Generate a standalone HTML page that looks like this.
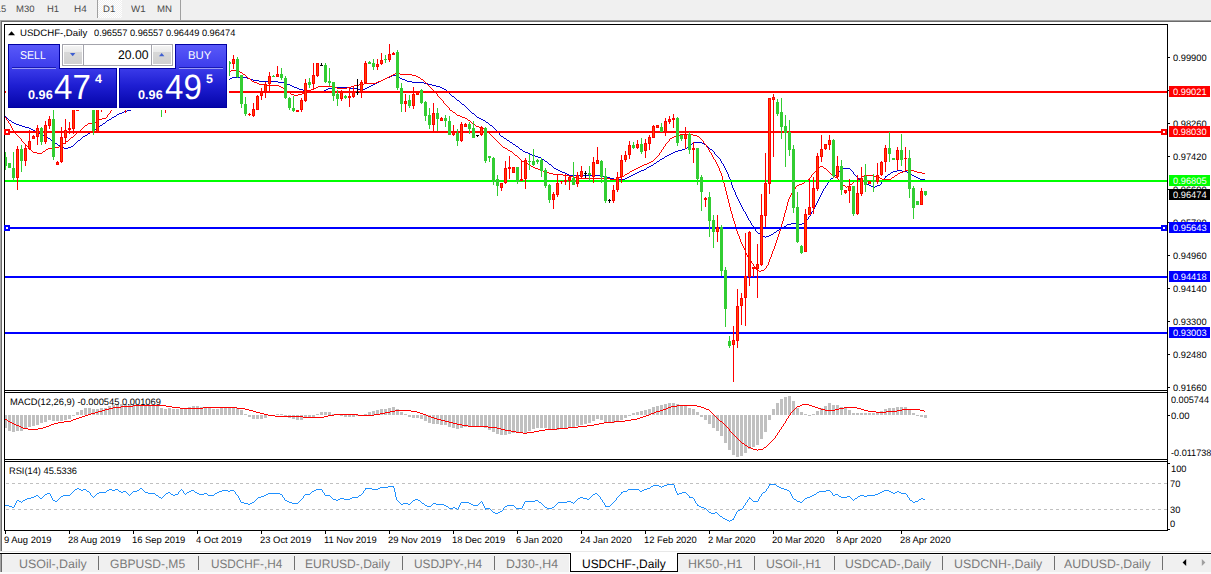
<!DOCTYPE html>
<html><head><meta charset="utf-8"><title>USDCHF-,Daily</title>
<style>
html,body{margin:0;padding:0;background:#fff}
#root{position:relative;width:1211px;height:574px;overflow:hidden;background:#fff;font-family:"Liberation Sans", sans-serif}
.t{position:absolute;white-space:pre;text-rendering:geometricPrecision}
.b{position:absolute;}
</style></head><body><div id="root">
<div class="b" style="left:0px;top:0px;width:1211px;height:20px;background:#f0f0f0;"></div>
<div class="b" style="left:0px;top:20px;width:1211px;height:1px;background:#a0a0a0;"></div>
<div class="b" style="left:0px;top:21px;width:1211px;height:1px;background:#6a6a6a;"></div>
<div class="b" style="left:0px;top:20px;width:1px;height:531px;background:#a8a8a8;"></div>
<div class="b" style="left:1px;top:21px;width:1px;height:530px;background:#6a6a6a;"></div>
<div class="b" style="left:98px;top:0px;width:24px;height:18px;background:#f7f7f7;background:repeating-conic-gradient(#ffffff 0% 25%,#f0f0f0 0% 50%) 0 0/2px 2px;"></div>
<div class="b" style="left:97px;top:0px;width:1px;height:18px;background:#a0a0a0;"></div>
<div class="b" style="left:180px;top:0px;width:1px;height:20px;background:#a0a0a0;"></div>
<div class="t" style="left:-4.2px;top:4px;font-size:9.4px;line-height:9.4px;color:#4a4a4a;">15</div>
<div class="t" style="left:16.2px;top:4px;font-size:9.4px;line-height:9.4px;color:#4a4a4a;transform:scaleX(1.0137);transform-origin:0 0;">M30</div>
<div class="t" style="left:47.3px;top:4px;font-size:9.4px;line-height:9.4px;color:#4a4a4a;transform:scaleX(1.0096);transform-origin:0 0;">H1</div>
<div class="t" style="left:74.3px;top:4px;font-size:9.4px;line-height:9.4px;color:#4a4a4a;transform:scaleX(1.0597);transform-origin:0 0;">H4</div>
<div class="t" style="left:102.9px;top:4px;font-size:9.4px;line-height:9.4px;color:#4a4a4a;transform:scaleX(1.0180);transform-origin:0 0;">D1</div>
<div class="t" style="left:131.0px;top:4px;font-size:9.4px;line-height:9.4px;color:#4a4a4a;transform:scaleX(1.0382);transform-origin:0 0;">W1</div>
<div class="t" style="left:157.4px;top:4px;font-size:9.4px;line-height:9.4px;color:#4a4a4a;transform:scaleX(1.0278);transform-origin:0 0;">MN</div>
<svg class="b" style="left:0;top:0" width="1211" height="574" viewBox="0 0 1211 574" shape-rendering="crispEdges"><path d="M142 105.5h4M139 106.5h3M137 107.5h2M134 108.5h3M131 109.5h3M127 110.5h4M124 111.5h3M122 112.5h2M119 113.5h3M117 114.5h2M116 115.5h1M5 116.5h1M114 116.5h2M6 117.5h1M112 117.5h2M7 118.5h1M111 118.5h1M8 119.5h1M109 119.5h2M9 120.5h2M107 120.5h2M11 121.5h1M106 121.5h1M12 122.5h2M105 122.5h1M14 123.5h2M103 123.5h2M16 124.5h3M102 124.5h1M19 125.5h3M100 125.5h2M22 126.5h3M99 126.5h1M25 127.5h4M98 127.5h1M29 128.5h2M96 128.5h2M31 129.5h2M95 129.5h1M33 130.5h2M93 130.5h2M35 131.5h2M92 131.5h1M37 132.5h2M90 132.5h2M39 133.5h2M88 133.5h2M41 134.5h1M87 134.5h1M42 135.5h2M85 135.5h2M44 136.5h2M83 136.5h2M46 137.5h2M82 137.5h1M48 138.5h2M81 138.5h1M50 139.5h1M80 139.5h1M51 140.5h2M78 140.5h2M53 141.5h1M77 141.5h1M54 142.5h1M76 142.5h1M55 143.5h2M75 143.5h1M57 144.5h1M74 144.5h1M58 145.5h2M73 145.5h1M60 146.5h1M71 146.5h2M61 147.5h3M68 147.5h3M64 148.5h4" fill="none" stroke="#0000d0" stroke-width="1"/><path d="M392 75.5h5M390 76.5h2M397 76.5h2M232 77.5h15M387 77.5h3M399 77.5h1M230 78.5h2M247 78.5h3M385 78.5h2M400 78.5h2M226 79.5h4M250 79.5h3M383 79.5h2M402 79.5h3M222 80.5h4M253 80.5h6M381 80.5h2M405 80.5h2M219 81.5h3M259 81.5h19M379 81.5h2M407 81.5h5M215 82.5h4M278 82.5h7M377 82.5h2M412 82.5h12M285 83.5h2M375 83.5h2M424 83.5h4M287 84.5h3M373 84.5h2M428 84.5h4M290 85.5h2M371 85.5h2M432 85.5h4M292 86.5h2M369 86.5h2M436 86.5h4M294 87.5h3M332 87.5h17M367 87.5h2M440 87.5h2M297 88.5h2M328 88.5h4M349 88.5h8M365 88.5h2M442 88.5h2M299 89.5h4M326 89.5h2M357 89.5h8M444 89.5h2M303 90.5h3M324 90.5h2M446 90.5h1M306 91.5h9M321 91.5h3M447 91.5h1M315 92.5h6M448 92.5h1M449 93.5h1M450 94.5h1M451 95.5h1M452 96.5h2M454 97.5h1M455 98.5h1M456 99.5h1M457 100.5h2M459 101.5h1M460 102.5h1M461 103.5h1M462 104.5h2M464 105.5h1M465 106.5h1M466 107.5h1M467 108.5h1M468 109.5h1M469 110.5h1M470 111.5h1M471 112.5h1M472 113.5h2M474 114.5h1M475 115.5h1M476 116.5h1M477 117.5h2M479 118.5h2M481 119.5h2M483 120.5h2M485 121.5h1M486 122.5h2M488 123.5h1M489 124.5h1M490 125.5h2M492 126.5h1M493 127.5h1M494 128.5h1M495 129.5h1M496 130.5h1M497 131.5h1M498 132.5h1M499 133.5h1M499 134.5h1M500 135.5h1M501 136.5h2M503 137.5h1M504 138.5h2M506 139.5h1M507 140.5h2M509 141.5h1M510 142.5h2M694 142.5h8M512 143.5h1M692 143.5h2M702 143.5h2M513 144.5h2M691 144.5h1M704 144.5h2M515 145.5h1M690 145.5h1M706 145.5h1M516 146.5h2M688 146.5h2M707 146.5h1M518 147.5h1M687 147.5h1M708 147.5h1M519 148.5h1M685 148.5h2M709 148.5h1M520 149.5h2M682 149.5h3M710 149.5h2M522 150.5h1M678 150.5h4M712 150.5h1M523 151.5h2M675 151.5h3M713 151.5h1M525 152.5h3M673 152.5h2M714 152.5h1M528 153.5h2M671 153.5h2M714 153.5h1M530 154.5h2M669 154.5h2M715 154.5h1M532 155.5h3M667 155.5h2M716 155.5h1M535 156.5h3M665 156.5h2M717 156.5h1M538 157.5h3M664 157.5h1M718 157.5h1M541 158.5h1M662 158.5h2M719 158.5h1M542 159.5h2M660 159.5h2M720 159.5h1M544 160.5h1M659 160.5h1M720 160.5h1M545 161.5h2M657 161.5h2M721 161.5h1M547 162.5h1M656 162.5h1M721 162.5h1M548 163.5h1M654 163.5h2M722 163.5h1M549 164.5h2M653 164.5h1M723 164.5h1M551 165.5h1M651 165.5h2M723 165.5h1M552 166.5h1M649 166.5h2M724 166.5h1M553 167.5h1M647 167.5h2M724 167.5h1M554 168.5h2M646 168.5h1M725 168.5h1M842 168.5h8M556 169.5h2M644 169.5h2M725 169.5h1M841 169.5h1M850 169.5h1M558 170.5h2M641 170.5h3M726 170.5h1M840 170.5h1M851 170.5h1M897 170.5h5M560 171.5h2M639 171.5h2M726 171.5h1M839 171.5h1M852 171.5h1M893 171.5h4M902 171.5h5M562 172.5h3M637 172.5h2M727 172.5h1M838 172.5h1M853 172.5h1M891 172.5h2M907 172.5h1M565 173.5h2M635 173.5h2M727 173.5h1M837 173.5h1M853 173.5h1M890 173.5h1M908 173.5h2M567 174.5h2M633 174.5h2M728 174.5h1M836 174.5h1M854 174.5h1M888 174.5h2M910 174.5h2M569 175.5h33M631 175.5h2M728 175.5h1M835 175.5h1M855 175.5h1M887 175.5h1M912 175.5h2M602 176.5h4M629 176.5h2M728 176.5h1M834 176.5h1M856 176.5h1M885 176.5h2M914 176.5h2M606 177.5h4M627 177.5h2M729 177.5h1M833 177.5h1M857 177.5h1M885 177.5h1M916 177.5h2M610 178.5h4M625 178.5h2M729 178.5h1M831 178.5h2M858 178.5h1M884 178.5h1M918 178.5h2M614 179.5h11M730 179.5h1M830 179.5h1M859 179.5h1M883 179.5h1M920 179.5h5M730 180.5h1M829 180.5h1M860 180.5h2M883 180.5h1M730 181.5h1M828 181.5h1M862 181.5h2M882 181.5h1M731 182.5h1M828 182.5h1M864 182.5h1M881 182.5h1M731 183.5h1M827 183.5h1M865 183.5h2M881 183.5h1M731 184.5h1M827 184.5h1M867 184.5h2M880 184.5h1M732 185.5h1M826 185.5h1M869 185.5h2M877 185.5h3M732 186.5h1M825 186.5h1M871 186.5h2M875 186.5h2M732 187.5h1M825 187.5h1M873 187.5h2M733 188.5h1M824 188.5h1M733 189.5h1M823 189.5h1M734 190.5h1M823 190.5h1M734 191.5h1M822 191.5h1M735 192.5h1M822 192.5h1M735 193.5h1M821 193.5h1M735 194.5h1M821 194.5h1M736 195.5h1M820 195.5h1M736 196.5h1M820 196.5h1M737 197.5h1M819 197.5h1M737 198.5h1M819 198.5h1M738 199.5h1M818 199.5h1M738 200.5h1M818 200.5h1M739 201.5h1M817 201.5h1M739 202.5h1M817 202.5h1M740 203.5h1M816 203.5h1M740 204.5h1M816 204.5h1M741 205.5h1M815 205.5h1M741 206.5h1M815 206.5h1M742 207.5h1M814 207.5h1M742 208.5h1M814 208.5h1M743 209.5h1M813 209.5h1M743 210.5h1M813 210.5h1M744 211.5h1M812 211.5h1M745 212.5h1M811 212.5h1M745 213.5h1M811 213.5h1M746 214.5h1M810 214.5h1M746 215.5h1M810 215.5h1M747 216.5h1M809 216.5h1M747 217.5h1M808 217.5h1M748 218.5h1M808 218.5h1M748 219.5h1M807 219.5h1M749 220.5h1M806 220.5h1M750 221.5h1M805 221.5h1M750 222.5h1M804 222.5h1M751 223.5h1M791 223.5h7M802 223.5h2M751 224.5h1M787 224.5h4M798 224.5h4M752 225.5h1M786 225.5h1M753 226.5h1M784 226.5h2M753 227.5h1M782 227.5h2M754 228.5h1M781 228.5h1M755 229.5h1M779 229.5h2M755 230.5h1M777 230.5h2M756 231.5h1M776 231.5h1M757 232.5h1M774 232.5h2M758 233.5h2M773 233.5h1M760 234.5h1M771 234.5h2M761 235.5h2M769 235.5h2M763 236.5h2M766 236.5h3M765 237.5h1" fill="none" stroke="#0000d0" stroke-width="1"/><path d="M124 95.5h2M123 96.5h1M122 97.5h1M121 98.5h1M121 99.5h1M120 100.5h1M119 101.5h1M118 102.5h1M117 103.5h1M116 104.5h1M115 105.5h1M114 106.5h1M114 107.5h1M113 108.5h1M112 109.5h1M111 110.5h1M110 111.5h1M110 112.5h1M109 113.5h1M108 114.5h1M107 115.5h1M107 116.5h1M5 117.5h1M106 117.5h1M6 118.5h1M102 118.5h4M6 119.5h1M99 119.5h3M7 120.5h1M98 120.5h1M8 121.5h1M96 121.5h2M8 122.5h1M92 122.5h4M9 123.5h1M88 123.5h4M10 124.5h1M87 124.5h1M10 125.5h1M85 125.5h2M11 126.5h1M84 126.5h1M11 127.5h1M83 127.5h1M12 128.5h1M82 128.5h1M12 129.5h1M81 129.5h1M13 130.5h1M80 130.5h1M14 131.5h1M78 131.5h2M15 132.5h1M77 132.5h1M15 133.5h1M76 133.5h1M16 134.5h1M75 134.5h1M17 135.5h1M74 135.5h1M18 136.5h1M73 136.5h1M19 137.5h1M71 137.5h2M20 138.5h1M70 138.5h1M21 139.5h1M69 139.5h1M21 140.5h1M68 140.5h1M22 141.5h1M66 141.5h2M23 142.5h1M65 142.5h1M24 143.5h1M63 143.5h2M25 144.5h1M62 144.5h1M26 145.5h1M60 145.5h2M27 146.5h1M59 146.5h1M28 147.5h1M55 147.5h4M29 148.5h1M48 148.5h7M30 149.5h1M46 149.5h2M31 150.5h1M45 150.5h1M32 151.5h1M43 151.5h2M33 152.5h4M42 152.5h1M37 153.5h5" fill="none" stroke="#ff0000" stroke-width="1"/><path d="M231 70.5h6M228 71.5h3M237 71.5h3M225 72.5h3M240 72.5h2M221 73.5h4M242 73.5h1M395 73.5h5M218 74.5h3M243 74.5h2M393 74.5h2M400 74.5h12M215 75.5h3M245 75.5h1M391 75.5h2M412 75.5h4M246 76.5h1M389 76.5h2M416 76.5h2M247 77.5h1M387 77.5h2M418 77.5h2M248 78.5h2M385 78.5h2M420 78.5h1M250 79.5h1M383 79.5h2M421 79.5h2M251 80.5h1M381 80.5h2M423 80.5h1M252 81.5h2M378 81.5h3M424 81.5h1M254 82.5h3M376 82.5h2M425 82.5h1M257 83.5h2M364 83.5h12M426 83.5h1M259 84.5h6M359 84.5h5M427 84.5h1M265 85.5h14M354 85.5h5M428 85.5h1M279 86.5h2M318 86.5h15M351 86.5h3M429 86.5h1M281 87.5h2M316 87.5h2M333 87.5h4M347 87.5h4M430 87.5h1M283 88.5h2M314 88.5h2M337 88.5h10M431 88.5h1M285 89.5h1M311 89.5h3M432 89.5h1M286 90.5h1M307 90.5h4M433 90.5h1M287 91.5h2M306 91.5h1M434 91.5h1M289 92.5h1M304 92.5h2M435 92.5h1M290 93.5h1M302 93.5h2M436 93.5h1M291 94.5h3M298 94.5h4M437 94.5h1M294 95.5h4M437 95.5h1M438 96.5h1M439 97.5h1M440 98.5h1M441 99.5h1M442 100.5h1M443 101.5h1M443 102.5h1M444 103.5h1M445 104.5h1M446 105.5h1M447 106.5h1M448 107.5h1M449 108.5h1M449 109.5h1M450 110.5h2M452 111.5h1M453 112.5h2M455 113.5h1M456 114.5h1M457 115.5h3M460 116.5h2M462 117.5h3M465 118.5h2M467 119.5h1M468 120.5h2M470 121.5h1M471 122.5h1M472 123.5h2M474 124.5h1M475 125.5h1M476 126.5h3M479 127.5h4M483 128.5h1M484 129.5h1M485 130.5h1M486 131.5h2M488 132.5h1M489 133.5h1M490 134.5h1M680 134.5h13M491 135.5h1M676 135.5h4M693 135.5h4M492 136.5h1M674 136.5h2M697 136.5h2M493 137.5h1M672 137.5h2M699 137.5h1M494 138.5h1M670 138.5h2M700 138.5h1M495 139.5h1M669 139.5h1M701 139.5h1M496 140.5h1M669 140.5h1M702 140.5h1M497 141.5h1M668 141.5h1M703 141.5h1M498 142.5h1M667 142.5h1M703 142.5h1M499 143.5h1M666 143.5h1M704 143.5h1M500 144.5h1M665 144.5h1M705 144.5h1M501 145.5h1M665 145.5h1M706 145.5h1M502 146.5h1M664 146.5h1M706 146.5h1M503 147.5h2M663 147.5h1M707 147.5h1M505 148.5h2M663 148.5h1M708 148.5h1M507 149.5h1M662 149.5h1M708 149.5h1M508 150.5h2M661 150.5h1M709 150.5h1M510 151.5h2M661 151.5h1M709 151.5h1M512 152.5h1M660 152.5h1M710 152.5h1M513 153.5h1M659 153.5h1M711 153.5h1M514 154.5h1M659 154.5h1M711 154.5h1M515 155.5h2M658 155.5h1M712 155.5h1M517 156.5h1M657 156.5h1M712 156.5h1M518 157.5h1M656 157.5h1M713 157.5h1M519 158.5h1M655 158.5h1M713 158.5h1M520 159.5h1M654 159.5h1M714 159.5h1M521 160.5h1M653 160.5h1M715 160.5h1M522 161.5h2M651 161.5h2M715 161.5h1M524 162.5h2M649 162.5h2M716 162.5h1M526 163.5h2M647 163.5h2M716 163.5h1M528 164.5h2M644 164.5h3M717 164.5h1M530 165.5h1M642 165.5h2M717 165.5h1M531 166.5h2M640 166.5h2M718 166.5h1M820 166.5h3M533 167.5h2M638 167.5h2M718 167.5h1M819 167.5h1M823 167.5h1M535 168.5h3M636 168.5h2M719 168.5h1M818 168.5h1M824 168.5h2M538 169.5h3M634 169.5h2M719 169.5h1M817 169.5h1M826 169.5h1M541 170.5h2M632 170.5h2M719 170.5h1M816 170.5h1M827 170.5h1M905 170.5h9M543 171.5h3M630 171.5h2M720 171.5h1M815 171.5h1M828 171.5h1M903 171.5h2M914 171.5h3M546 172.5h3M629 172.5h1M720 172.5h1M814 172.5h1M829 172.5h1M900 172.5h3M917 172.5h5M549 173.5h4M627 173.5h2M721 173.5h1M813 173.5h1M830 173.5h1M898 173.5h2M922 173.5h3M553 174.5h10M625 174.5h2M721 174.5h1M812 174.5h1M831 174.5h2M897 174.5h1M563 175.5h6M624 175.5h1M721 175.5h1M811 175.5h1M833 175.5h1M864 175.5h10M895 175.5h2M569 176.5h4M622 176.5h2M722 176.5h1M811 176.5h1M834 176.5h1M862 176.5h2M874 176.5h4M894 176.5h1M573 177.5h5M619 177.5h3M722 177.5h1M810 177.5h1M835 177.5h2M861 177.5h1M878 177.5h2M892 177.5h2M578 178.5h32M616 178.5h3M722 178.5h1M809 178.5h1M837 178.5h1M859 178.5h2M880 178.5h2M891 178.5h1M610 179.5h6M722 179.5h1M808 179.5h1M838 179.5h1M857 179.5h2M882 179.5h9M723 180.5h1M807 180.5h1M838 180.5h1M856 180.5h1M723 181.5h1M805 181.5h2M839 181.5h1M854 181.5h2M723 182.5h1M804 182.5h1M840 182.5h1M853 182.5h1M724 183.5h1M802 183.5h2M841 183.5h1M852 183.5h1M724 184.5h1M799 184.5h3M842 184.5h1M850 184.5h2M724 185.5h1M797 185.5h2M843 185.5h2M849 185.5h1M724 186.5h1M796 186.5h1M845 186.5h1M847 186.5h2M725 187.5h1M795 187.5h1M846 187.5h1M725 188.5h1M795 188.5h1M725 189.5h1M794 189.5h1M725 190.5h1M793 190.5h1M726 191.5h1M792 191.5h1M726 192.5h1M792 192.5h1M726 193.5h1M791 193.5h1M726 194.5h1M791 194.5h1M727 195.5h1M790 195.5h1M727 196.5h1M790 196.5h1M727 197.5h1M789 197.5h1M727 198.5h1M789 198.5h1M728 199.5h1M788 199.5h1M728 200.5h1M788 200.5h1M728 201.5h1M788 201.5h1M728 202.5h1M787 202.5h1M729 203.5h1M787 203.5h1M729 204.5h1M787 204.5h1M729 205.5h1M787 205.5h1M729 206.5h1M786 206.5h1M730 207.5h1M786 207.5h1M730 208.5h1M786 208.5h1M730 209.5h1M786 209.5h1M730 210.5h1M785 210.5h1M731 211.5h1M785 211.5h1M731 212.5h1M785 212.5h1M731 213.5h1M784 213.5h1M732 214.5h1M784 214.5h1M732 215.5h1M784 215.5h1M732 216.5h1M784 216.5h1M732 217.5h1M783 217.5h1M733 218.5h1M783 218.5h1M733 219.5h1M783 219.5h1M733 220.5h1M783 220.5h1M734 221.5h1M782 221.5h1M734 222.5h1M782 222.5h1M734 223.5h1M782 223.5h1M735 224.5h1M781 224.5h1M735 225.5h1M781 225.5h1M735 226.5h1M781 226.5h1M735 227.5h1M781 227.5h1M736 228.5h1M780 228.5h1M736 229.5h1M780 229.5h1M736 230.5h1M780 230.5h1M737 231.5h1M779 231.5h1M737 232.5h1M779 232.5h1M737 233.5h1M779 233.5h1M738 234.5h1M778 234.5h1M738 235.5h1M778 235.5h1M739 236.5h1M778 236.5h1M739 237.5h1M777 237.5h1M739 238.5h1M777 238.5h1M740 239.5h1M777 239.5h1M740 240.5h1M776 240.5h1M740 241.5h1M776 241.5h1M741 242.5h1M776 242.5h1M741 243.5h1M775 243.5h1M742 244.5h1M775 244.5h1M742 245.5h1M775 245.5h1M743 246.5h1M774 246.5h1M743 247.5h1M774 247.5h1M744 248.5h1M774 248.5h1M744 249.5h1M773 249.5h1M745 250.5h1M773 250.5h1M745 251.5h1M772 251.5h1M745 252.5h1M772 252.5h1M746 253.5h1M772 253.5h1M746 254.5h1M771 254.5h1M747 255.5h1M771 255.5h1M747 256.5h1M771 256.5h1M748 257.5h1M770 257.5h1M749 258.5h1M770 258.5h1M749 259.5h1M769 259.5h1M750 260.5h1M769 260.5h1M751 261.5h1M769 261.5h1M751 262.5h1M768 262.5h1M752 263.5h1M768 263.5h1M753 264.5h1M768 264.5h1M753 265.5h1M767 265.5h1M754 266.5h1M766 266.5h1M755 267.5h1M766 267.5h1M755 268.5h1M765 268.5h1M756 269.5h2M764 269.5h1M758 270.5h1M761 270.5h3M759 271.5h2" fill="none" stroke="#ff0000" stroke-width="1"/><rect x="5" y="91" width="1162" height="2" fill="#ff0000"/><rect x="5" y="131" width="1162" height="2" fill="#ff0000"/><rect x="5" y="180" width="1162" height="2" fill="#00ff00"/><rect x="5" y="227" width="1162" height="2" fill="#0000ff"/><rect x="5" y="276" width="1162" height="2" fill="#0000ff"/><rect x="5" y="332" width="1162" height="2" fill="#0000ff"/><rect x="5" y="152" width="1" height="18" fill="#32cd32"/><rect x="4" y="157" width="3" height="9" fill="#32cd32"/><rect x="9" y="163" width="1" height="5" fill="#32cd32"/><rect x="8" y="163" width="3" height="5" fill="#32cd32"/><rect x="13" y="152" width="1" height="29" fill="#32cd32"/><rect x="12" y="168" width="3" height="10" fill="#32cd32"/><rect x="17" y="146" width="1" height="44" fill="#ff0000"/><rect x="16" y="149" width="3" height="29" fill="#ff0000"/><rect x="17" y="150" width="1" height="27" fill="#ff4500"/><rect x="21" y="145" width="1" height="27" fill="#32cd32"/><rect x="20" y="149" width="3" height="12" fill="#32cd32"/><rect x="25" y="144" width="1" height="22" fill="#ff0000"/><rect x="24" y="148" width="3" height="13" fill="#ff0000"/><rect x="25" y="149" width="1" height="11" fill="#ff4500"/><rect x="29" y="130" width="1" height="20" fill="#ff0000"/><rect x="28" y="141" width="3" height="8" fill="#ff0000"/><rect x="29" y="142" width="1" height="6" fill="#ff4500"/><rect x="33" y="135" width="1" height="4" fill="#ff0000"/><rect x="32" y="136" width="3" height="3" fill="#ff0000"/><rect x="33" y="137" width="1" height="1" fill="#ff4500"/><rect x="37" y="125" width="1" height="20" fill="#ff0000"/><rect x="36" y="128" width="3" height="9" fill="#ff0000"/><rect x="37" y="129" width="1" height="7" fill="#ff4500"/><rect x="41" y="127" width="1" height="18" fill="#32cd32"/><rect x="40" y="128" width="3" height="14" fill="#32cd32"/><rect x="45" y="121" width="1" height="23" fill="#ff0000"/><rect x="44" y="125" width="3" height="17" fill="#ff0000"/><rect x="45" y="126" width="1" height="15" fill="#ff4500"/><rect x="49" y="116" width="1" height="13" fill="#ff0000"/><rect x="48" y="119" width="3" height="7" fill="#ff0000"/><rect x="49" y="120" width="1" height="5" fill="#ff4500"/><rect x="53" y="110" width="1" height="50" fill="#32cd32"/><rect x="52" y="119" width="3" height="38" fill="#32cd32"/><rect x="57" y="161" width="1" height="4" fill="#ff0000"/><rect x="56" y="162" width="3" height="3" fill="#ff0000"/><rect x="57" y="163" width="1" height="1" fill="#ff4500"/><rect x="61" y="127" width="1" height="36" fill="#ff0000"/><rect x="60" y="137" width="3" height="25" fill="#ff0000"/><rect x="61" y="138" width="1" height="23" fill="#ff4500"/><rect x="65" y="119" width="1" height="25" fill="#ff0000"/><rect x="64" y="130" width="3" height="8" fill="#ff0000"/><rect x="65" y="131" width="1" height="6" fill="#ff4500"/><rect x="69" y="122" width="1" height="12" fill="#ff0000"/><rect x="68" y="128" width="3" height="2" fill="#ff0000"/><rect x="73" y="100" width="1" height="34" fill="#ff0000"/><rect x="72" y="104" width="3" height="25" fill="#ff0000"/><rect x="73" y="105" width="1" height="23" fill="#ff4500"/><rect x="77" y="110" width="1" height="1" fill="#ff0000"/><rect x="76" y="110" width="3" height="1" fill="#ff0000"/><rect x="93" y="98" width="1" height="37" fill="#32cd32"/><rect x="92" y="100" width="3" height="31" fill="#32cd32"/><rect x="97" y="98" width="1" height="34" fill="#ff0000"/><rect x="96" y="100" width="3" height="32" fill="#ff0000"/><rect x="97" y="101" width="1" height="30" fill="#ff4500"/><rect x="101" y="100" width="1" height="12" fill="#ff0000"/><rect x="100" y="100" width="3" height="5" fill="#ff0000"/><rect x="101" y="101" width="1" height="3" fill="#ff4500"/><rect x="125" y="100" width="1" height="13" fill="#ff0000"/><rect x="124" y="100" width="3" height="5" fill="#ff0000"/><rect x="125" y="101" width="1" height="3" fill="#ff4500"/><rect x="161" y="100" width="1" height="17" fill="#32cd32"/><rect x="160" y="100" width="3" height="5" fill="#32cd32"/><rect x="165" y="100" width="1" height="13" fill="#ff0000"/><rect x="164" y="100" width="3" height="5" fill="#ff0000"/><rect x="165" y="101" width="1" height="3" fill="#ff4500"/><rect x="229" y="61" width="1" height="15" fill="#32cd32"/><rect x="228" y="62" width="3" height="2" fill="#32cd32"/><rect x="233" y="55" width="1" height="14" fill="#ff0000"/><rect x="232" y="59" width="3" height="5" fill="#ff0000"/><rect x="233" y="60" width="1" height="3" fill="#ff4500"/><rect x="237" y="57" width="1" height="21" fill="#32cd32"/><rect x="236" y="59" width="3" height="18" fill="#32cd32"/><rect x="241" y="75" width="1" height="33" fill="#32cd32"/><rect x="240" y="75" width="3" height="29" fill="#32cd32"/><rect x="245" y="97" width="1" height="19" fill="#32cd32"/><rect x="244" y="104" width="3" height="10" fill="#32cd32"/><rect x="249" y="113" width="1" height="3" fill="#ff0000"/><rect x="248" y="114" width="3" height="1" fill="#ff0000"/><rect x="253" y="103" width="1" height="14" fill="#ff0000"/><rect x="252" y="109" width="3" height="7" fill="#ff0000"/><rect x="253" y="110" width="1" height="5" fill="#ff4500"/><rect x="257" y="95" width="1" height="15" fill="#ff0000"/><rect x="256" y="96" width="3" height="14" fill="#ff0000"/><rect x="257" y="97" width="1" height="12" fill="#ff4500"/><rect x="261" y="88" width="1" height="12" fill="#ff0000"/><rect x="260" y="92" width="3" height="4" fill="#ff0000"/><rect x="261" y="93" width="1" height="2" fill="#ff4500"/><rect x="265" y="82" width="1" height="16" fill="#ff0000"/><rect x="264" y="84" width="3" height="8" fill="#ff0000"/><rect x="265" y="85" width="1" height="6" fill="#ff4500"/><rect x="269" y="72" width="1" height="20" fill="#ff0000"/><rect x="268" y="76" width="3" height="8" fill="#ff0000"/><rect x="269" y="77" width="1" height="6" fill="#ff4500"/><rect x="273" y="75" width="1" height="1" fill="#32cd32"/><rect x="272" y="76" width="3" height="1" fill="#32cd32"/><rect x="277" y="66" width="1" height="11" fill="#ff0000"/><rect x="276" y="74" width="3" height="3" fill="#ff0000"/><rect x="277" y="75" width="1" height="1" fill="#ff4500"/><rect x="281" y="68" width="1" height="12" fill="#32cd32"/><rect x="280" y="74" width="3" height="4" fill="#32cd32"/><rect x="285" y="76" width="1" height="23" fill="#32cd32"/><rect x="284" y="78" width="3" height="20" fill="#32cd32"/><rect x="289" y="97" width="1" height="13" fill="#32cd32"/><rect x="288" y="98" width="3" height="10" fill="#32cd32"/><rect x="293" y="96" width="1" height="16" fill="#32cd32"/><rect x="292" y="108" width="3" height="3" fill="#32cd32"/><rect x="297" y="110" width="1" height="2" fill="#ff0000"/><rect x="296" y="110" width="3" height="2" fill="#ff0000"/><rect x="301" y="98" width="1" height="14" fill="#ff0000"/><rect x="300" y="100" width="3" height="10" fill="#ff0000"/><rect x="301" y="101" width="1" height="8" fill="#ff4500"/><rect x="305" y="79" width="1" height="23" fill="#ff0000"/><rect x="304" y="83" width="3" height="18" fill="#ff0000"/><rect x="305" y="84" width="1" height="16" fill="#ff4500"/><rect x="309" y="78" width="1" height="10" fill="#32cd32"/><rect x="308" y="82" width="3" height="3" fill="#32cd32"/><rect x="313" y="63" width="1" height="26" fill="#ff0000"/><rect x="312" y="75" width="3" height="9" fill="#ff0000"/><rect x="313" y="76" width="1" height="7" fill="#ff4500"/><rect x="317" y="63" width="1" height="14" fill="#ff0000"/><rect x="316" y="63" width="3" height="13" fill="#ff0000"/><rect x="317" y="64" width="1" height="11" fill="#ff4500"/><rect x="321" y="63" width="1" height="2" fill="#000000"/><rect x="320" y="65" width="3" height="1" fill="#000000"/><rect x="325" y="63" width="1" height="20" fill="#32cd32"/><rect x="324" y="65" width="3" height="17" fill="#32cd32"/><rect x="329" y="68" width="1" height="18" fill="#32cd32"/><rect x="328" y="81" width="3" height="2" fill="#32cd32"/><rect x="333" y="82" width="1" height="19" fill="#32cd32"/><rect x="332" y="82" width="3" height="14" fill="#32cd32"/><rect x="337" y="90" width="1" height="16" fill="#32cd32"/><rect x="336" y="94" width="3" height="5" fill="#32cd32"/><rect x="341" y="90" width="1" height="11" fill="#ff0000"/><rect x="340" y="92" width="3" height="7" fill="#ff0000"/><rect x="341" y="93" width="1" height="5" fill="#ff4500"/><rect x="345" y="95" width="1" height="4" fill="#32cd32"/><rect x="344" y="96" width="3" height="2" fill="#32cd32"/><rect x="349" y="87" width="1" height="20" fill="#ff0000"/><rect x="348" y="96" width="3" height="2" fill="#ff0000"/><rect x="353" y="86" width="1" height="12" fill="#ff0000"/><rect x="352" y="92" width="3" height="5" fill="#ff0000"/><rect x="353" y="93" width="1" height="3" fill="#ff4500"/><rect x="357" y="79" width="1" height="16" fill="#000000"/><rect x="356" y="92" width="3" height="1" fill="#000000"/><rect x="361" y="80" width="1" height="18" fill="#ff0000"/><rect x="360" y="82" width="3" height="10" fill="#ff0000"/><rect x="361" y="83" width="1" height="8" fill="#ff4500"/><rect x="365" y="61" width="1" height="23" fill="#ff0000"/><rect x="364" y="63" width="3" height="20" fill="#ff0000"/><rect x="365" y="64" width="1" height="18" fill="#ff4500"/><rect x="369" y="61" width="1" height="1" fill="#32cd32"/><rect x="368" y="62" width="3" height="2" fill="#32cd32"/><rect x="373" y="59" width="1" height="11" fill="#32cd32"/><rect x="372" y="63" width="3" height="4" fill="#32cd32"/><rect x="377" y="59" width="1" height="11" fill="#ff0000"/><rect x="376" y="64" width="3" height="3" fill="#ff0000"/><rect x="377" y="65" width="1" height="1" fill="#ff4500"/><rect x="381" y="53" width="1" height="12" fill="#ff0000"/><rect x="380" y="60" width="3" height="4" fill="#ff0000"/><rect x="381" y="61" width="1" height="2" fill="#ff4500"/><rect x="385" y="55" width="1" height="8" fill="#32cd32"/><rect x="384" y="59" width="3" height="1" fill="#32cd32"/><rect x="389" y="44" width="1" height="18" fill="#ff0000"/><rect x="388" y="54" width="3" height="6" fill="#ff0000"/><rect x="389" y="55" width="1" height="4" fill="#ff4500"/><rect x="393" y="52" width="1" height="1" fill="#ff0000"/><rect x="392" y="53" width="3" height="2" fill="#ff0000"/><rect x="397" y="50" width="1" height="40" fill="#32cd32"/><rect x="396" y="52" width="3" height="36" fill="#32cd32"/><rect x="401" y="83" width="1" height="29" fill="#32cd32"/><rect x="400" y="88" width="3" height="16" fill="#32cd32"/><rect x="405" y="94" width="1" height="18" fill="#ff0000"/><rect x="404" y="101" width="3" height="3" fill="#ff0000"/><rect x="405" y="102" width="1" height="1" fill="#ff4500"/><rect x="409" y="95" width="1" height="13" fill="#32cd32"/><rect x="408" y="100" width="3" height="6" fill="#32cd32"/><rect x="413" y="87" width="1" height="22" fill="#ff0000"/><rect x="412" y="94" width="3" height="12" fill="#ff0000"/><rect x="413" y="95" width="1" height="10" fill="#ff4500"/><rect x="417" y="92" width="1" height="3" fill="#ff0000"/><rect x="416" y="92" width="3" height="3" fill="#ff0000"/><rect x="417" y="93" width="1" height="1" fill="#ff4500"/><rect x="421" y="89" width="1" height="15" fill="#32cd32"/><rect x="420" y="90" width="3" height="13" fill="#32cd32"/><rect x="425" y="101" width="1" height="20" fill="#32cd32"/><rect x="424" y="102" width="3" height="14" fill="#32cd32"/><rect x="429" y="108" width="1" height="21" fill="#32cd32"/><rect x="428" y="115" width="3" height="10" fill="#32cd32"/><rect x="433" y="103" width="1" height="28" fill="#ff0000"/><rect x="432" y="113" width="3" height="12" fill="#ff0000"/><rect x="433" y="114" width="1" height="10" fill="#ff4500"/><rect x="437" y="108" width="1" height="23" fill="#32cd32"/><rect x="436" y="113" width="3" height="6" fill="#32cd32"/><rect x="441" y="117" width="1" height="4" fill="#ff0000"/><rect x="440" y="118" width="3" height="3" fill="#ff0000"/><rect x="441" y="119" width="1" height="1" fill="#ff4500"/><rect x="445" y="115" width="1" height="12" fill="#32cd32"/><rect x="444" y="118" width="3" height="3" fill="#32cd32"/><rect x="449" y="116" width="1" height="19" fill="#32cd32"/><rect x="448" y="121" width="3" height="14" fill="#32cd32"/><rect x="453" y="125" width="1" height="11" fill="#ff0000"/><rect x="452" y="132" width="3" height="3" fill="#ff0000"/><rect x="453" y="133" width="1" height="1" fill="#ff4500"/><rect x="457" y="129" width="1" height="17" fill="#32cd32"/><rect x="456" y="133" width="3" height="8" fill="#32cd32"/><rect x="461" y="122" width="1" height="20" fill="#ff0000"/><rect x="460" y="124" width="3" height="17" fill="#ff0000"/><rect x="461" y="125" width="1" height="15" fill="#ff4500"/><rect x="465" y="123" width="1" height="4" fill="#ff0000"/><rect x="464" y="124" width="3" height="3" fill="#ff0000"/><rect x="465" y="125" width="1" height="1" fill="#ff4500"/><rect x="469" y="122" width="1" height="12" fill="#32cd32"/><rect x="468" y="124" width="3" height="5" fill="#32cd32"/><rect x="473" y="121" width="1" height="17" fill="#32cd32"/><rect x="472" y="128" width="3" height="10" fill="#32cd32"/><rect x="477" y="135" width="1" height="2" fill="#000000"/><rect x="476" y="135" width="3" height="1" fill="#000000"/><rect x="481" y="126" width="1" height="10" fill="#ff0000"/><rect x="480" y="127" width="3" height="8" fill="#ff0000"/><rect x="481" y="128" width="1" height="6" fill="#ff4500"/><rect x="485" y="127" width="1" height="36" fill="#32cd32"/><rect x="484" y="128" width="3" height="33" fill="#32cd32"/><rect x="489" y="156" width="1" height="6" fill="#32cd32"/><rect x="488" y="156" width="3" height="2" fill="#32cd32"/><rect x="493" y="157" width="1" height="28" fill="#32cd32"/><rect x="492" y="158" width="3" height="24" fill="#32cd32"/><rect x="497" y="175" width="1" height="21" fill="#32cd32"/><rect x="496" y="179" width="3" height="7" fill="#32cd32"/><rect x="501" y="183" width="1" height="8" fill="#ff0000"/><rect x="500" y="183" width="3" height="5" fill="#ff0000"/><rect x="501" y="184" width="1" height="3" fill="#ff4500"/><rect x="505" y="161" width="1" height="23" fill="#ff0000"/><rect x="504" y="168" width="3" height="15" fill="#ff0000"/><rect x="505" y="169" width="1" height="13" fill="#ff4500"/><rect x="509" y="156" width="1" height="23" fill="#ff0000"/><rect x="508" y="167" width="3" height="2" fill="#ff0000"/><rect x="513" y="167" width="1" height="6" fill="#ff0000"/><rect x="512" y="167" width="3" height="6" fill="#ff0000"/><rect x="513" y="168" width="1" height="4" fill="#ff4500"/><rect x="517" y="167" width="1" height="17" fill="#32cd32"/><rect x="516" y="167" width="3" height="15" fill="#32cd32"/><rect x="521" y="161" width="1" height="19" fill="#ff0000"/><rect x="520" y="179" width="3" height="2" fill="#ff0000"/><rect x="525" y="158" width="1" height="31" fill="#ff0000"/><rect x="524" y="160" width="3" height="19" fill="#ff0000"/><rect x="525" y="161" width="1" height="17" fill="#ff4500"/><rect x="529" y="154" width="1" height="16" fill="#32cd32"/><rect x="528" y="161" width="3" height="1" fill="#32cd32"/><rect x="533" y="149" width="1" height="17" fill="#32cd32"/><rect x="532" y="161" width="3" height="4" fill="#32cd32"/><rect x="537" y="159" width="1" height="5" fill="#32cd32"/><rect x="536" y="160" width="3" height="2" fill="#32cd32"/><rect x="541" y="158" width="1" height="19" fill="#32cd32"/><rect x="540" y="160" width="3" height="11" fill="#32cd32"/><rect x="545" y="168" width="1" height="20" fill="#32cd32"/><rect x="544" y="170" width="3" height="16" fill="#32cd32"/><rect x="549" y="184" width="1" height="19" fill="#32cd32"/><rect x="548" y="185" width="3" height="15" fill="#32cd32"/><rect x="553" y="192" width="1" height="17" fill="#ff0000"/><rect x="552" y="194" width="3" height="6" fill="#ff0000"/><rect x="553" y="195" width="1" height="4" fill="#ff4500"/><rect x="557" y="174" width="1" height="23" fill="#ff0000"/><rect x="556" y="183" width="3" height="12" fill="#ff0000"/><rect x="557" y="184" width="1" height="10" fill="#ff4500"/><rect x="561" y="181" width="1" height="3" fill="#ff0000"/><rect x="560" y="181" width="3" height="1" fill="#ff0000"/><rect x="565" y="174" width="1" height="11" fill="#ff0000"/><rect x="564" y="180" width="3" height="2" fill="#ff0000"/><rect x="569" y="177" width="1" height="13" fill="#ff0000"/><rect x="568" y="177" width="3" height="4" fill="#ff0000"/><rect x="569" y="178" width="1" height="2" fill="#ff4500"/><rect x="573" y="162" width="1" height="23" fill="#32cd32"/><rect x="572" y="178" width="3" height="7" fill="#32cd32"/><rect x="577" y="172" width="1" height="15" fill="#ff0000"/><rect x="576" y="175" width="3" height="9" fill="#ff0000"/><rect x="577" y="176" width="1" height="7" fill="#ff4500"/><rect x="581" y="166" width="1" height="12" fill="#ff0000"/><rect x="580" y="171" width="3" height="6" fill="#ff0000"/><rect x="581" y="172" width="1" height="4" fill="#ff4500"/><rect x="585" y="171" width="1" height="7" fill="#000000"/><rect x="584" y="173" width="3" height="1" fill="#000000"/><rect x="589" y="166" width="1" height="16" fill="#32cd32"/><rect x="588" y="173" width="3" height="2" fill="#32cd32"/><rect x="593" y="157" width="1" height="26" fill="#ff0000"/><rect x="592" y="162" width="3" height="15" fill="#ff0000"/><rect x="593" y="163" width="1" height="13" fill="#ff4500"/><rect x="597" y="147" width="1" height="17" fill="#ff0000"/><rect x="596" y="160" width="3" height="4" fill="#ff0000"/><rect x="597" y="161" width="1" height="2" fill="#ff4500"/><rect x="601" y="160" width="1" height="23" fill="#32cd32"/><rect x="600" y="161" width="3" height="16" fill="#32cd32"/><rect x="605" y="168" width="1" height="35" fill="#32cd32"/><rect x="604" y="176" width="3" height="25" fill="#32cd32"/><rect x="609" y="199" width="1" height="4" fill="#000000"/><rect x="608" y="200" width="3" height="1" fill="#000000"/><rect x="613" y="185" width="1" height="18" fill="#ff0000"/><rect x="612" y="190" width="3" height="11" fill="#ff0000"/><rect x="613" y="191" width="1" height="9" fill="#ff4500"/><rect x="617" y="172" width="1" height="20" fill="#ff0000"/><rect x="616" y="177" width="3" height="13" fill="#ff0000"/><rect x="617" y="178" width="1" height="11" fill="#ff4500"/><rect x="621" y="155" width="1" height="28" fill="#ff0000"/><rect x="620" y="160" width="3" height="17" fill="#ff0000"/><rect x="621" y="161" width="1" height="15" fill="#ff4500"/><rect x="625" y="151" width="1" height="11" fill="#ff0000"/><rect x="624" y="155" width="3" height="5" fill="#ff0000"/><rect x="625" y="156" width="1" height="3" fill="#ff4500"/><rect x="629" y="141" width="1" height="18" fill="#ff0000"/><rect x="628" y="145" width="3" height="10" fill="#ff0000"/><rect x="629" y="146" width="1" height="8" fill="#ff4500"/><rect x="633" y="142" width="1" height="7" fill="#32cd32"/><rect x="632" y="145" width="3" height="3" fill="#32cd32"/><rect x="637" y="140" width="1" height="9" fill="#ff0000"/><rect x="636" y="144" width="3" height="4" fill="#ff0000"/><rect x="637" y="145" width="1" height="2" fill="#ff4500"/><rect x="641" y="138" width="1" height="16" fill="#32cd32"/><rect x="640" y="144" width="3" height="8" fill="#32cd32"/><rect x="645" y="139" width="1" height="19" fill="#ff0000"/><rect x="644" y="143" width="3" height="8" fill="#ff0000"/><rect x="645" y="144" width="1" height="6" fill="#ff4500"/><rect x="649" y="135" width="1" height="15" fill="#ff0000"/><rect x="648" y="137" width="3" height="7" fill="#ff0000"/><rect x="649" y="138" width="1" height="5" fill="#ff4500"/><rect x="653" y="125" width="1" height="13" fill="#ff0000"/><rect x="652" y="126" width="3" height="12" fill="#ff0000"/><rect x="653" y="127" width="1" height="10" fill="#ff4500"/><rect x="657" y="125" width="1" height="3" fill="#ff0000"/><rect x="656" y="125" width="3" height="3" fill="#ff0000"/><rect x="657" y="126" width="1" height="1" fill="#ff4500"/><rect x="661" y="123" width="1" height="9" fill="#32cd32"/><rect x="660" y="127" width="3" height="5" fill="#32cd32"/><rect x="665" y="118" width="1" height="18" fill="#ff0000"/><rect x="664" y="121" width="3" height="11" fill="#ff0000"/><rect x="665" y="122" width="1" height="9" fill="#ff4500"/><rect x="669" y="116" width="1" height="8" fill="#ff0000"/><rect x="668" y="119" width="3" height="3" fill="#ff0000"/><rect x="669" y="120" width="1" height="1" fill="#ff4500"/><rect x="673" y="114" width="1" height="14" fill="#ff0000"/><rect x="672" y="118" width="3" height="2" fill="#ff0000"/><rect x="677" y="117" width="1" height="29" fill="#32cd32"/><rect x="676" y="118" width="3" height="25" fill="#32cd32"/><rect x="681" y="135" width="1" height="6" fill="#32cd32"/><rect x="680" y="135" width="3" height="4" fill="#32cd32"/><rect x="685" y="127" width="1" height="22" fill="#ff0000"/><rect x="684" y="134" width="3" height="5" fill="#ff0000"/><rect x="685" y="135" width="1" height="3" fill="#ff4500"/><rect x="689" y="132" width="1" height="22" fill="#32cd32"/><rect x="688" y="134" width="3" height="16" fill="#32cd32"/><rect x="693" y="142" width="1" height="21" fill="#ff0000"/><rect x="692" y="148" width="3" height="2" fill="#ff0000"/><rect x="697" y="148" width="1" height="37" fill="#32cd32"/><rect x="696" y="148" width="3" height="31" fill="#32cd32"/><rect x="701" y="175" width="1" height="36" fill="#32cd32"/><rect x="700" y="177" width="3" height="15" fill="#32cd32"/><rect x="705" y="197" width="1" height="10" fill="#ff0000"/><rect x="704" y="198" width="3" height="2" fill="#ff0000"/><rect x="709" y="192" width="1" height="45" fill="#32cd32"/><rect x="708" y="197" width="3" height="24" fill="#32cd32"/><rect x="713" y="215" width="1" height="33" fill="#32cd32"/><rect x="712" y="220" width="3" height="12" fill="#32cd32"/><rect x="717" y="215" width="1" height="27" fill="#ff0000"/><rect x="716" y="227" width="3" height="5" fill="#ff0000"/><rect x="717" y="228" width="1" height="3" fill="#ff4500"/><rect x="721" y="225" width="1" height="51" fill="#32cd32"/><rect x="720" y="227" width="3" height="44" fill="#32cd32"/><rect x="725" y="267" width="1" height="60" fill="#32cd32"/><rect x="724" y="270" width="3" height="39" fill="#32cd32"/><rect x="729" y="336" width="1" height="12" fill="#32cd32"/><rect x="728" y="341" width="3" height="5" fill="#32cd32"/><rect x="733" y="326" width="1" height="56" fill="#ff0000"/><rect x="732" y="340" width="3" height="5" fill="#ff0000"/><rect x="733" y="341" width="1" height="3" fill="#ff4500"/><rect x="737" y="289" width="1" height="59" fill="#ff0000"/><rect x="736" y="306" width="3" height="35" fill="#ff0000"/><rect x="737" y="307" width="1" height="33" fill="#ff4500"/><rect x="741" y="293" width="1" height="32" fill="#ff0000"/><rect x="740" y="298" width="3" height="8" fill="#ff0000"/><rect x="741" y="299" width="1" height="6" fill="#ff4500"/><rect x="745" y="233" width="1" height="93" fill="#ff0000"/><rect x="744" y="276" width="3" height="22" fill="#ff0000"/><rect x="745" y="277" width="1" height="20" fill="#ff4500"/><rect x="749" y="231" width="1" height="55" fill="#ff0000"/><rect x="748" y="232" width="3" height="45" fill="#ff0000"/><rect x="749" y="233" width="1" height="43" fill="#ff4500"/><rect x="753" y="267" width="1" height="10" fill="#ff0000"/><rect x="752" y="267" width="3" height="2" fill="#ff0000"/><rect x="757" y="244" width="1" height="54" fill="#ff0000"/><rect x="756" y="264" width="3" height="5" fill="#ff0000"/><rect x="757" y="265" width="1" height="3" fill="#ff4500"/><rect x="761" y="194" width="1" height="72" fill="#ff0000"/><rect x="760" y="215" width="3" height="50" fill="#ff0000"/><rect x="761" y="216" width="1" height="48" fill="#ff4500"/><rect x="765" y="153" width="1" height="74" fill="#ff0000"/><rect x="764" y="183" width="3" height="33" fill="#ff0000"/><rect x="765" y="184" width="1" height="31" fill="#ff4500"/><rect x="769" y="98" width="1" height="96" fill="#ff0000"/><rect x="768" y="98" width="3" height="86" fill="#ff0000"/><rect x="769" y="99" width="1" height="84" fill="#ff4500"/><rect x="773" y="94" width="1" height="63" fill="#ff0000"/><rect x="772" y="97" width="3" height="3" fill="#ff0000"/><rect x="773" y="98" width="1" height="1" fill="#ff4500"/><rect x="777" y="99" width="1" height="17" fill="#32cd32"/><rect x="776" y="102" width="3" height="12" fill="#32cd32"/><rect x="781" y="98" width="1" height="41" fill="#32cd32"/><rect x="780" y="112" width="3" height="15" fill="#32cd32"/><rect x="785" y="115" width="1" height="52" fill="#32cd32"/><rect x="784" y="126" width="3" height="7" fill="#32cd32"/><rect x="789" y="120" width="1" height="36" fill="#32cd32"/><rect x="788" y="132" width="3" height="18" fill="#32cd32"/><rect x="793" y="145" width="1" height="68" fill="#32cd32"/><rect x="792" y="149" width="3" height="59" fill="#32cd32"/><rect x="797" y="192" width="1" height="51" fill="#32cd32"/><rect x="796" y="207" width="3" height="35" fill="#32cd32"/><rect x="801" y="245" width="1" height="9" fill="#32cd32"/><rect x="800" y="246" width="3" height="7" fill="#32cd32"/><rect x="805" y="209" width="1" height="43" fill="#ff0000"/><rect x="804" y="214" width="3" height="38" fill="#ff0000"/><rect x="805" y="215" width="1" height="36" fill="#ff4500"/><rect x="809" y="179" width="1" height="36" fill="#ff0000"/><rect x="808" y="207" width="3" height="8" fill="#ff0000"/><rect x="809" y="208" width="1" height="6" fill="#ff4500"/><rect x="813" y="177" width="1" height="37" fill="#ff0000"/><rect x="812" y="188" width="3" height="20" fill="#ff0000"/><rect x="813" y="189" width="1" height="18" fill="#ff4500"/><rect x="817" y="153" width="1" height="38" fill="#ff0000"/><rect x="816" y="156" width="3" height="33" fill="#ff0000"/><rect x="817" y="157" width="1" height="31" fill="#ff4500"/><rect x="821" y="135" width="1" height="27" fill="#ff0000"/><rect x="820" y="149" width="3" height="8" fill="#ff0000"/><rect x="821" y="150" width="1" height="6" fill="#ff4500"/><rect x="825" y="144" width="1" height="6" fill="#ff0000"/><rect x="824" y="144" width="3" height="5" fill="#ff0000"/><rect x="825" y="145" width="1" height="3" fill="#ff4500"/><rect x="829" y="135" width="1" height="15" fill="#ff0000"/><rect x="828" y="140" width="3" height="5" fill="#ff0000"/><rect x="829" y="141" width="1" height="3" fill="#ff4500"/><rect x="833" y="139" width="1" height="39" fill="#32cd32"/><rect x="832" y="140" width="3" height="36" fill="#32cd32"/><rect x="837" y="156" width="1" height="23" fill="#ff0000"/><rect x="836" y="166" width="3" height="11" fill="#ff0000"/><rect x="837" y="167" width="1" height="9" fill="#ff4500"/><rect x="841" y="160" width="1" height="35" fill="#32cd32"/><rect x="840" y="166" width="3" height="24" fill="#32cd32"/><rect x="845" y="190" width="1" height="4" fill="#ff0000"/><rect x="844" y="190" width="3" height="3" fill="#ff0000"/><rect x="845" y="191" width="1" height="1" fill="#ff4500"/><rect x="849" y="179" width="1" height="24" fill="#ff0000"/><rect x="848" y="186" width="3" height="5" fill="#ff0000"/><rect x="849" y="187" width="1" height="3" fill="#ff4500"/><rect x="853" y="186" width="1" height="30" fill="#32cd32"/><rect x="852" y="186" width="3" height="28" fill="#32cd32"/><rect x="857" y="175" width="1" height="40" fill="#ff0000"/><rect x="856" y="193" width="3" height="21" fill="#ff0000"/><rect x="857" y="194" width="1" height="19" fill="#ff4500"/><rect x="861" y="167" width="1" height="29" fill="#ff0000"/><rect x="860" y="178" width="3" height="16" fill="#ff0000"/><rect x="861" y="179" width="1" height="14" fill="#ff4500"/><rect x="865" y="164" width="1" height="28" fill="#32cd32"/><rect x="864" y="176" width="3" height="9" fill="#32cd32"/><rect x="869" y="181" width="1" height="3" fill="#ff0000"/><rect x="868" y="181" width="3" height="3" fill="#ff0000"/><rect x="869" y="182" width="1" height="1" fill="#ff4500"/><rect x="873" y="174" width="1" height="18" fill="#32cd32"/><rect x="872" y="180" width="3" height="2" fill="#32cd32"/><rect x="877" y="163" width="1" height="21" fill="#ff0000"/><rect x="876" y="175" width="3" height="7" fill="#ff0000"/><rect x="877" y="176" width="1" height="5" fill="#ff4500"/><rect x="881" y="161" width="1" height="15" fill="#ff0000"/><rect x="880" y="162" width="3" height="13" fill="#ff0000"/><rect x="881" y="163" width="1" height="11" fill="#ff4500"/><rect x="885" y="145" width="1" height="27" fill="#ff0000"/><rect x="884" y="148" width="3" height="14" fill="#ff0000"/><rect x="885" y="149" width="1" height="12" fill="#ff4500"/><rect x="889" y="132" width="1" height="30" fill="#32cd32"/><rect x="888" y="148" width="3" height="6" fill="#32cd32"/><rect x="893" y="158" width="1" height="2" fill="#32cd32"/><rect x="892" y="158" width="3" height="2" fill="#32cd32"/><rect x="897" y="147" width="1" height="23" fill="#ff0000"/><rect x="896" y="150" width="3" height="10" fill="#ff0000"/><rect x="897" y="151" width="1" height="8" fill="#ff4500"/><rect x="901" y="134" width="1" height="32" fill="#32cd32"/><rect x="900" y="150" width="3" height="10" fill="#32cd32"/><rect x="905" y="147" width="1" height="24" fill="#ff0000"/><rect x="904" y="158" width="3" height="1" fill="#ff0000"/><rect x="909" y="150" width="1" height="48" fill="#32cd32"/><rect x="908" y="158" width="3" height="31" fill="#32cd32"/><rect x="913" y="186" width="1" height="33" fill="#32cd32"/><rect x="912" y="188" width="3" height="20" fill="#32cd32"/><rect x="917" y="201" width="1" height="4" fill="#32cd32"/><rect x="916" y="201" width="3" height="4" fill="#32cd32"/><rect x="921" y="188" width="1" height="17" fill="#ff0000"/><rect x="920" y="191" width="3" height="14" fill="#ff0000"/><rect x="921" y="192" width="1" height="12" fill="#ff4500"/><rect x="925" y="191" width="1" height="5" fill="#32cd32"/><rect x="924" y="191" width="3" height="4" fill="#32cd32"/><rect x="4" y="415" width="3" height="13" fill="#c0c0c0"/><rect x="8" y="415" width="3" height="16" fill="#c0c0c0"/><rect x="12" y="415" width="3" height="17" fill="#c0c0c0"/><rect x="16" y="415" width="3" height="16" fill="#c0c0c0"/><rect x="20" y="415" width="3" height="16" fill="#c0c0c0"/><rect x="24" y="415" width="3" height="14" fill="#c0c0c0"/><rect x="28" y="415" width="3" height="12" fill="#c0c0c0"/><rect x="32" y="415" width="3" height="11" fill="#c0c0c0"/><rect x="36" y="415" width="3" height="10" fill="#c0c0c0"/><rect x="40" y="415" width="3" height="8" fill="#c0c0c0"/><rect x="44" y="415" width="3" height="7" fill="#c0c0c0"/><rect x="48" y="415" width="3" height="5" fill="#c0c0c0"/><rect x="52" y="415" width="3" height="6" fill="#c0c0c0"/><rect x="56" y="415" width="3" height="6" fill="#c0c0c0"/><rect x="60" y="415" width="3" height="6" fill="#c0c0c0"/><rect x="64" y="415" width="3" height="5" fill="#c0c0c0"/><rect x="68" y="415" width="3" height="4" fill="#c0c0c0"/><rect x="72" y="415" width="3" height="1" fill="#c0c0c0"/><rect x="76" y="412" width="3" height="3" fill="#c0c0c0"/><rect x="80" y="410" width="3" height="5" fill="#c0c0c0"/><rect x="84" y="408" width="3" height="7" fill="#c0c0c0"/><rect x="88" y="408" width="3" height="7" fill="#c0c0c0"/><rect x="92" y="409" width="3" height="6" fill="#c0c0c0"/><rect x="96" y="409" width="3" height="6" fill="#c0c0c0"/><rect x="100" y="408" width="3" height="7" fill="#c0c0c0"/><rect x="104" y="408" width="3" height="7" fill="#c0c0c0"/><rect x="108" y="406" width="3" height="9" fill="#c0c0c0"/><rect x="112" y="405" width="3" height="10" fill="#c0c0c0"/><rect x="116" y="404" width="3" height="11" fill="#c0c0c0"/><rect x="120" y="404" width="3" height="11" fill="#c0c0c0"/><rect x="124" y="404" width="3" height="11" fill="#c0c0c0"/><rect x="128" y="404" width="3" height="11" fill="#c0c0c0"/><rect x="132" y="405" width="3" height="10" fill="#c0c0c0"/><rect x="136" y="405" width="3" height="10" fill="#c0c0c0"/><rect x="140" y="406" width="3" height="9" fill="#c0c0c0"/><rect x="144" y="405" width="3" height="10" fill="#c0c0c0"/><rect x="148" y="405" width="3" height="10" fill="#c0c0c0"/><rect x="152" y="406" width="3" height="9" fill="#c0c0c0"/><rect x="156" y="406" width="3" height="9" fill="#c0c0c0"/><rect x="160" y="408" width="3" height="7" fill="#c0c0c0"/><rect x="164" y="409" width="3" height="6" fill="#c0c0c0"/><rect x="168" y="408" width="3" height="7" fill="#c0c0c0"/><rect x="172" y="409" width="3" height="6" fill="#c0c0c0"/><rect x="176" y="409" width="3" height="6" fill="#c0c0c0"/><rect x="180" y="408" width="3" height="7" fill="#c0c0c0"/><rect x="184" y="408" width="3" height="7" fill="#c0c0c0"/><rect x="188" y="407" width="3" height="8" fill="#c0c0c0"/><rect x="192" y="406" width="3" height="9" fill="#c0c0c0"/><rect x="196" y="406" width="3" height="9" fill="#c0c0c0"/><rect x="200" y="407" width="3" height="8" fill="#c0c0c0"/><rect x="204" y="408" width="3" height="7" fill="#c0c0c0"/><rect x="208" y="408" width="3" height="7" fill="#c0c0c0"/><rect x="212" y="409" width="3" height="6" fill="#c0c0c0"/><rect x="216" y="409" width="3" height="6" fill="#c0c0c0"/><rect x="220" y="408" width="3" height="7" fill="#c0c0c0"/><rect x="224" y="407" width="3" height="8" fill="#c0c0c0"/><rect x="228" y="407" width="3" height="8" fill="#c0c0c0"/><rect x="232" y="407" width="3" height="8" fill="#c0c0c0"/><rect x="236" y="408" width="3" height="7" fill="#c0c0c0"/><rect x="240" y="410" width="3" height="5" fill="#c0c0c0"/><rect x="244" y="414" width="3" height="1" fill="#c0c0c0"/><rect x="248" y="415" width="3" height="2" fill="#c0c0c0"/><rect x="252" y="415" width="3" height="4" fill="#c0c0c0"/><rect x="256" y="415" width="3" height="4" fill="#c0c0c0"/><rect x="260" y="415" width="3" height="4" fill="#c0c0c0"/><rect x="264" y="415" width="3" height="3" fill="#c0c0c0"/><rect x="268" y="415" width="3" height="1" fill="#c0c0c0"/><rect x="272" y="415" width="3" height="1" fill="#c0c0c0"/><rect x="276" y="414" width="3" height="1" fill="#c0c0c0"/><rect x="280" y="414" width="3" height="1" fill="#c0c0c0"/><rect x="284" y="415" width="3" height="1" fill="#c0c0c0"/><rect x="288" y="415" width="3" height="3" fill="#c0c0c0"/><rect x="292" y="415" width="3" height="4" fill="#c0c0c0"/><rect x="296" y="415" width="3" height="5" fill="#c0c0c0"/><rect x="300" y="415" width="3" height="5" fill="#c0c0c0"/><rect x="304" y="415" width="3" height="3" fill="#c0c0c0"/><rect x="308" y="415" width="3" height="2" fill="#c0c0c0"/><rect x="312" y="415" width="3" height="2" fill="#c0c0c0"/><rect x="316" y="414" width="3" height="1" fill="#c0c0c0"/><rect x="320" y="412" width="3" height="3" fill="#c0c0c0"/><rect x="324" y="412" width="3" height="3" fill="#c0c0c0"/><rect x="328" y="412" width="3" height="3" fill="#c0c0c0"/><rect x="332" y="414" width="3" height="1" fill="#c0c0c0"/><rect x="336" y="414" width="3" height="1" fill="#c0c0c0"/><rect x="340" y="415" width="3" height="1" fill="#c0c0c0"/><rect x="344" y="415" width="3" height="2" fill="#c0c0c0"/><rect x="348" y="415" width="3" height="2" fill="#c0c0c0"/><rect x="352" y="415" width="3" height="2" fill="#c0c0c0"/><rect x="356" y="415" width="3" height="1" fill="#c0c0c0"/><rect x="360" y="415" width="3" height="1" fill="#c0c0c0"/><rect x="364" y="414" width="3" height="1" fill="#c0c0c0"/><rect x="368" y="412" width="3" height="3" fill="#c0c0c0"/><rect x="372" y="411" width="3" height="4" fill="#c0c0c0"/><rect x="376" y="410" width="3" height="5" fill="#c0c0c0"/><rect x="380" y="409" width="3" height="6" fill="#c0c0c0"/><rect x="384" y="409" width="3" height="6" fill="#c0c0c0"/><rect x="388" y="408" width="3" height="7" fill="#c0c0c0"/><rect x="392" y="407" width="3" height="8" fill="#c0c0c0"/><rect x="396" y="409" width="3" height="6" fill="#c0c0c0"/><rect x="400" y="412" width="3" height="3" fill="#c0c0c0"/><rect x="404" y="414" width="3" height="1" fill="#c0c0c0"/><rect x="408" y="415" width="3" height="2" fill="#c0c0c0"/><rect x="412" y="415" width="3" height="3" fill="#c0c0c0"/><rect x="416" y="415" width="3" height="3" fill="#c0c0c0"/><rect x="420" y="415" width="3" height="4" fill="#c0c0c0"/><rect x="424" y="415" width="3" height="6" fill="#c0c0c0"/><rect x="428" y="415" width="3" height="8" fill="#c0c0c0"/><rect x="432" y="415" width="3" height="9" fill="#c0c0c0"/><rect x="436" y="415" width="3" height="9" fill="#c0c0c0"/><rect x="440" y="415" width="3" height="10" fill="#c0c0c0"/><rect x="444" y="415" width="3" height="10" fill="#c0c0c0"/><rect x="448" y="415" width="3" height="12" fill="#c0c0c0"/><rect x="452" y="415" width="3" height="13" fill="#c0c0c0"/><rect x="456" y="415" width="3" height="14" fill="#c0c0c0"/><rect x="460" y="415" width="3" height="13" fill="#c0c0c0"/><rect x="464" y="415" width="3" height="12" fill="#c0c0c0"/><rect x="468" y="415" width="3" height="11" fill="#c0c0c0"/><rect x="472" y="415" width="3" height="12" fill="#c0c0c0"/><rect x="476" y="415" width="3" height="12" fill="#c0c0c0"/><rect x="480" y="415" width="3" height="12" fill="#c0c0c0"/><rect x="484" y="415" width="3" height="13" fill="#c0c0c0"/><rect x="488" y="415" width="3" height="15" fill="#c0c0c0"/><rect x="492" y="415" width="3" height="17" fill="#c0c0c0"/><rect x="496" y="415" width="3" height="19" fill="#c0c0c0"/><rect x="500" y="415" width="3" height="20" fill="#c0c0c0"/><rect x="504" y="415" width="3" height="20" fill="#c0c0c0"/><rect x="508" y="415" width="3" height="19" fill="#c0c0c0"/><rect x="512" y="415" width="3" height="18" fill="#c0c0c0"/><rect x="516" y="415" width="3" height="18" fill="#c0c0c0"/><rect x="520" y="415" width="3" height="17" fill="#c0c0c0"/><rect x="524" y="415" width="3" height="18" fill="#c0c0c0"/><rect x="528" y="415" width="3" height="16" fill="#c0c0c0"/><rect x="532" y="415" width="3" height="14" fill="#c0c0c0"/><rect x="536" y="415" width="3" height="13" fill="#c0c0c0"/><rect x="540" y="415" width="3" height="13" fill="#c0c0c0"/><rect x="544" y="415" width="3" height="13" fill="#c0c0c0"/><rect x="548" y="415" width="3" height="15" fill="#c0c0c0"/><rect x="552" y="415" width="3" height="15" fill="#c0c0c0"/><rect x="556" y="415" width="3" height="15" fill="#c0c0c0"/><rect x="560" y="415" width="3" height="14" fill="#c0c0c0"/><rect x="564" y="415" width="3" height="13" fill="#c0c0c0"/><rect x="568" y="415" width="3" height="13" fill="#c0c0c0"/><rect x="572" y="415" width="3" height="12" fill="#c0c0c0"/><rect x="576" y="415" width="3" height="11" fill="#c0c0c0"/><rect x="580" y="415" width="3" height="10" fill="#c0c0c0"/><rect x="584" y="415" width="3" height="9" fill="#c0c0c0"/><rect x="588" y="415" width="3" height="8" fill="#c0c0c0"/><rect x="592" y="415" width="3" height="6" fill="#c0c0c0"/><rect x="596" y="415" width="3" height="4" fill="#c0c0c0"/><rect x="600" y="415" width="3" height="5" fill="#c0c0c0"/><rect x="604" y="415" width="3" height="8" fill="#c0c0c0"/><rect x="608" y="415" width="3" height="8" fill="#c0c0c0"/><rect x="612" y="415" width="3" height="8" fill="#c0c0c0"/><rect x="616" y="415" width="3" height="7" fill="#c0c0c0"/><rect x="620" y="415" width="3" height="5" fill="#c0c0c0"/><rect x="624" y="415" width="3" height="3" fill="#c0c0c0"/><rect x="628" y="415" width="3" height="1" fill="#c0c0c0"/><rect x="632" y="413" width="3" height="2" fill="#c0c0c0"/><rect x="636" y="412" width="3" height="3" fill="#c0c0c0"/><rect x="640" y="411" width="3" height="4" fill="#c0c0c0"/><rect x="644" y="410" width="3" height="5" fill="#c0c0c0"/><rect x="648" y="409" width="3" height="6" fill="#c0c0c0"/><rect x="652" y="407" width="3" height="8" fill="#c0c0c0"/><rect x="656" y="406" width="3" height="9" fill="#c0c0c0"/><rect x="660" y="405" width="3" height="10" fill="#c0c0c0"/><rect x="664" y="404" width="3" height="11" fill="#c0c0c0"/><rect x="668" y="403" width="3" height="12" fill="#c0c0c0"/><rect x="672" y="403" width="3" height="12" fill="#c0c0c0"/><rect x="676" y="404" width="3" height="11" fill="#c0c0c0"/><rect x="680" y="406" width="3" height="9" fill="#c0c0c0"/><rect x="684" y="406" width="3" height="9" fill="#c0c0c0"/><rect x="688" y="408" width="3" height="7" fill="#c0c0c0"/><rect x="692" y="409" width="3" height="6" fill="#c0c0c0"/><rect x="696" y="412" width="3" height="3" fill="#c0c0c0"/><rect x="700" y="415" width="3" height="2" fill="#c0c0c0"/><rect x="704" y="415" width="3" height="5" fill="#c0c0c0"/><rect x="708" y="415" width="3" height="9" fill="#c0c0c0"/><rect x="712" y="415" width="3" height="13" fill="#c0c0c0"/><rect x="716" y="415" width="3" height="16" fill="#c0c0c0"/><rect x="720" y="415" width="3" height="21" fill="#c0c0c0"/><rect x="724" y="415" width="3" height="28" fill="#c0c0c0"/><rect x="728" y="415" width="3" height="35" fill="#c0c0c0"/><rect x="732" y="415" width="3" height="40" fill="#c0c0c0"/><rect x="736" y="415" width="3" height="42" fill="#c0c0c0"/><rect x="740" y="415" width="3" height="41" fill="#c0c0c0"/><rect x="744" y="415" width="3" height="38" fill="#c0c0c0"/><rect x="748" y="415" width="3" height="34" fill="#c0c0c0"/><rect x="752" y="415" width="3" height="32" fill="#c0c0c0"/><rect x="756" y="415" width="3" height="30" fill="#c0c0c0"/><rect x="760" y="415" width="3" height="24" fill="#c0c0c0"/><rect x="764" y="415" width="3" height="17" fill="#c0c0c0"/><rect x="768" y="415" width="3" height="5" fill="#c0c0c0"/><rect x="772" y="409" width="3" height="6" fill="#c0c0c0"/><rect x="776" y="403" width="3" height="12" fill="#c0c0c0"/><rect x="780" y="399" width="3" height="16" fill="#c0c0c0"/><rect x="784" y="397" width="3" height="18" fill="#c0c0c0"/><rect x="788" y="396" width="3" height="19" fill="#c0c0c0"/><rect x="792" y="401" width="3" height="14" fill="#c0c0c0"/><rect x="796" y="408" width="3" height="7" fill="#c0c0c0"/><rect x="800" y="412" width="3" height="3" fill="#c0c0c0"/><rect x="804" y="414" width="3" height="1" fill="#c0c0c0"/><rect x="808" y="415" width="3" height="1" fill="#c0c0c0"/><rect x="812" y="414" width="3" height="1" fill="#c0c0c0"/><rect x="816" y="411" width="3" height="4" fill="#c0c0c0"/><rect x="820" y="408" width="3" height="7" fill="#c0c0c0"/><rect x="824" y="406" width="3" height="9" fill="#c0c0c0"/><rect x="828" y="403" width="3" height="12" fill="#c0c0c0"/><rect x="832" y="405" width="3" height="10" fill="#c0c0c0"/><rect x="836" y="405" width="3" height="10" fill="#c0c0c0"/><rect x="840" y="407" width="3" height="8" fill="#c0c0c0"/><rect x="844" y="408" width="3" height="7" fill="#c0c0c0"/><rect x="848" y="410" width="3" height="5" fill="#c0c0c0"/><rect x="852" y="413" width="3" height="2" fill="#c0c0c0"/><rect x="856" y="413" width="3" height="2" fill="#c0c0c0"/><rect x="860" y="413" width="3" height="2" fill="#c0c0c0"/><rect x="864" y="413" width="3" height="2" fill="#c0c0c0"/><rect x="868" y="413" width="3" height="2" fill="#c0c0c0"/><rect x="872" y="413" width="3" height="2" fill="#c0c0c0"/><rect x="876" y="412" width="3" height="3" fill="#c0c0c0"/><rect x="880" y="411" width="3" height="4" fill="#c0c0c0"/><rect x="884" y="409" width="3" height="6" fill="#c0c0c0"/><rect x="888" y="408" width="3" height="7" fill="#c0c0c0"/><rect x="892" y="408" width="3" height="7" fill="#c0c0c0"/><rect x="896" y="407" width="3" height="8" fill="#c0c0c0"/><rect x="900" y="407" width="3" height="8" fill="#c0c0c0"/><rect x="904" y="407" width="3" height="8" fill="#c0c0c0"/><rect x="908" y="410" width="3" height="5" fill="#c0c0c0"/><rect x="912" y="413" width="3" height="2" fill="#c0c0c0"/><rect x="916" y="415" width="3" height="1" fill="#c0c0c0"/><rect x="920" y="415" width="3" height="2" fill="#c0c0c0"/><rect x="924" y="415" width="3" height="3" fill="#c0c0c0"/><path d="M802 404.5h7M133 405.5h33M677 405.5h20M800 405.5h2M809 405.5h3M121 406.5h12M166 406.5h6M671 406.5h6M697 406.5h4M797 406.5h3M812 406.5h3M113 407.5h8M172 407.5h8M203 407.5h34M668 407.5h3M701 407.5h3M796 407.5h1M815 407.5h3M844 407.5h13M109 408.5h4M180 408.5h23M237 408.5h8M666 408.5h2M704 408.5h2M795 408.5h1M818 408.5h3M839 408.5h5M857 408.5h4M105 409.5h4M245 409.5h4M663 409.5h3M706 409.5h3M794 409.5h1M821 409.5h4M835 409.5h4M861 409.5h3M902 409.5h18M102 410.5h3M249 410.5h4M395 410.5h16M660 410.5h3M709 410.5h1M793 410.5h1M825 410.5h10M864 410.5h4M897 410.5h5M920 410.5h4M98 411.5h4M253 411.5h3M390 411.5h5M411 411.5h6M656 411.5h4M710 411.5h1M792 411.5h1M868 411.5h8M886 411.5h11M924 411.5h1M95 412.5h3M256 412.5h4M385 412.5h5M417 412.5h3M654 412.5h2M711 412.5h1M791 412.5h1M876 412.5h10M91 413.5h4M260 413.5h4M380 413.5h5M420 413.5h3M651 413.5h3M712 413.5h1M790 413.5h1M88 414.5h3M264 414.5h4M334 414.5h24M374 414.5h6M423 414.5h3M649 414.5h2M713 414.5h1M790 414.5h1M85 415.5h3M268 415.5h7M328 415.5h6M358 415.5h16M426 415.5h2M646 415.5h3M714 415.5h1M789 415.5h1M82 416.5h3M275 416.5h28M324 416.5h4M428 416.5h3M643 416.5h3M715 416.5h1M788 416.5h1M79 417.5h3M303 417.5h21M431 417.5h3M640 417.5h3M716 417.5h1M788 417.5h1M76 418.5h3M434 418.5h3M637 418.5h3M717 418.5h1M787 418.5h1M5 419.5h2M73 419.5h3M437 419.5h4M631 419.5h6M718 419.5h1M786 419.5h1M7 420.5h1M71 420.5h2M441 420.5h4M625 420.5h6M719 420.5h1M786 420.5h1M8 421.5h2M64 421.5h7M445 421.5h4M614 421.5h11M720 421.5h2M785 421.5h1M10 422.5h2M58 422.5h6M449 422.5h4M604 422.5h10M722 422.5h1M785 422.5h1M12 423.5h2M54 423.5h4M453 423.5h4M599 423.5h5M723 423.5h1M784 423.5h1M14 424.5h2M51 424.5h3M457 424.5h5M594 424.5h5M724 424.5h1M783 424.5h1M16 425.5h3M49 425.5h2M462 425.5h6M587 425.5h7M725 425.5h1M783 425.5h1M19 426.5h2M46 426.5h3M468 426.5h20M578 426.5h9M726 426.5h1M782 426.5h1M21 427.5h2M43 427.5h3M488 427.5h9M568 427.5h10M727 427.5h1M781 427.5h1M23 428.5h5M38 428.5h5M497 428.5h4M557 428.5h11M728 428.5h1M781 428.5h1M28 429.5h10M501 429.5h4M545 429.5h12M729 429.5h1M780 429.5h1M505 430.5h6M539 430.5h6M729 430.5h1M779 430.5h1M511 431.5h5M534 431.5h5M730 431.5h1M779 431.5h1M516 432.5h7M527 432.5h7M731 432.5h1M778 432.5h1M523 433.5h4M732 433.5h1M777 433.5h1M733 434.5h1M777 434.5h1M734 435.5h1M776 435.5h1M735 436.5h1M775 436.5h1M736 437.5h1M775 437.5h1M737 438.5h1M774 438.5h1M738 439.5h1M773 439.5h1M739 440.5h1M772 440.5h1M740 441.5h1M771 441.5h1M741 442.5h1M770 442.5h1M742 443.5h2M769 443.5h1M744 444.5h1M768 444.5h1M745 445.5h2M767 445.5h1M747 446.5h1M766 446.5h1M748 447.5h3M764 447.5h2M751 448.5h2M763 448.5h1M753 449.5h4M758 449.5h5M757 450.5h1" fill="none" stroke="#ff0000" stroke-width="1"/><line x1="6" y1="483.5" x2="1167" y2="483.5" stroke="#c0c0c0" stroke-width="1" stroke-dasharray="3,3"/><line x1="6" y1="509.5" x2="1167" y2="509.5" stroke="#c0c0c0" stroke-width="1" stroke-dasharray="3,3"/><path d="M667 484.5h7M769 484.5h7M653 485.5h6M664 485.5h3M674 485.5h1M769 485.5h1M776 485.5h1M388 486.5h6M651 486.5h2M659 486.5h2M662 486.5h2M674 486.5h1M768 486.5h1M777 486.5h2M380 487.5h8M393 487.5h1M650 487.5h1M661 487.5h1M674 487.5h1M768 487.5h1M779 487.5h2M77 488.5h2M140 488.5h2M365 488.5h7M378 488.5h2M394 488.5h1M647 488.5h3M675 488.5h1M767 488.5h1M781 488.5h3M75 489.5h2M79 489.5h2M83 489.5h3M109 489.5h3M115 489.5h3M139 489.5h1M142 489.5h1M181 489.5h1M316 489.5h6M365 489.5h1M372 489.5h6M394 489.5h1M628 489.5h11M644 489.5h3M675 489.5h1M766 489.5h1M784 489.5h3M74 490.5h1M81 490.5h2M86 490.5h1M107 490.5h2M112 490.5h3M118 490.5h1M137 490.5h2M143 490.5h1M180 490.5h1M182 490.5h1M191 490.5h3M222 490.5h6M230 490.5h4M314 490.5h2M322 490.5h1M364 490.5h1M394 490.5h1M627 490.5h1M639 490.5h1M642 490.5h2M675 490.5h1M766 490.5h1M787 490.5h2M826 490.5h4M884 490.5h5M73 491.5h1M87 491.5h2M106 491.5h1M119 491.5h2M123 491.5h3M133 491.5h4M144 491.5h1M179 491.5h1M183 491.5h1M189 491.5h2M194 491.5h1M219 491.5h3M228 491.5h2M234 491.5h1M312 491.5h2M322 491.5h1M363 491.5h1M394 491.5h1M623 491.5h4M640 491.5h2M676 491.5h1M765 491.5h1M789 491.5h1M819 491.5h7M830 491.5h1M882 491.5h2M889 491.5h2M897 491.5h2M72 492.5h1M89 492.5h1M99 492.5h7M121 492.5h2M126 492.5h1M132 492.5h1M145 492.5h3M168 492.5h2M178 492.5h1M183 492.5h1M187 492.5h2M195 492.5h2M217 492.5h2M235 492.5h1M311 492.5h1M323 492.5h1M363 492.5h1M395 492.5h1M621 492.5h2M676 492.5h1M682 492.5h4M763 492.5h2M790 492.5h1M817 492.5h2M831 492.5h1M880 492.5h2M891 492.5h2M895 492.5h2M899 492.5h2M47 493.5h3M71 493.5h1M90 493.5h1M97 493.5h2M127 493.5h1M131 493.5h1M148 493.5h7M166 493.5h2M170 493.5h1M178 493.5h1M184 493.5h1M186 493.5h1M197 493.5h2M204 493.5h3M215 493.5h2M235 493.5h1M268 493.5h12M310 493.5h1M324 493.5h1M362 493.5h1M395 493.5h1M595 493.5h2M621 493.5h1M677 493.5h1M679 493.5h3M686 493.5h1M762 493.5h1M790 493.5h1M816 493.5h1M832 493.5h1M878 493.5h2M893 493.5h2M901 493.5h5M45 494.5h2M50 494.5h1M70 494.5h1M90 494.5h1M96 494.5h1M128 494.5h1M130 494.5h1M155 494.5h1M165 494.5h1M171 494.5h2M175 494.5h3M185 494.5h1M199 494.5h5M207 494.5h1M214 494.5h1M236 494.5h1M266 494.5h2M280 494.5h2M305 494.5h5M324 494.5h1M361 494.5h1M395 494.5h1M593 494.5h2M597 494.5h1M620 494.5h1M677 494.5h2M687 494.5h1M761 494.5h1M791 494.5h1M814 494.5h2M832 494.5h1M835 494.5h3M875 494.5h3M906 494.5h1M36 495.5h2M44 495.5h1M50 495.5h1M63 495.5h7M91 495.5h1M95 495.5h1M129 495.5h1M156 495.5h2M164 495.5h1M173 495.5h2M208 495.5h6M237 495.5h1M264 495.5h2M282 495.5h1M304 495.5h1M325 495.5h5M359 495.5h2M395 495.5h1M592 495.5h1M598 495.5h1M619 495.5h1M688 495.5h1M761 495.5h1M791 495.5h1M812 495.5h2M833 495.5h2M838 495.5h1M860 495.5h4M867 495.5h8M907 495.5h1M34 496.5h2M38 496.5h1M43 496.5h1M51 496.5h1M61 496.5h2M92 496.5h1M94 496.5h1M158 496.5h1M163 496.5h1M238 496.5h1M261 496.5h3M282 496.5h1M303 496.5h1M330 496.5h1M358 496.5h1M395 496.5h1M591 496.5h1M599 496.5h1M618 496.5h1M689 496.5h1M760 496.5h1M792 496.5h1M810 496.5h2M839 496.5h2M847 496.5h3M858 496.5h2M864 496.5h3M907 496.5h1M31 497.5h3M39 497.5h1M42 497.5h1M51 497.5h1M60 497.5h1M93 497.5h1M159 497.5h2M162 497.5h1M238 497.5h1M258 497.5h3M283 497.5h1M303 497.5h1M331 497.5h1M352 497.5h6M396 497.5h1M580 497.5h3M590 497.5h1M600 497.5h1M617 497.5h1M689 497.5h4M749 497.5h1M759 497.5h1M792 497.5h1M807 497.5h3M841 497.5h6M850 497.5h1M857 497.5h1M908 497.5h1M27 498.5h4M40 498.5h2M52 498.5h1M59 498.5h1M161 498.5h1M239 498.5h1M257 498.5h1M284 498.5h1M302 498.5h1M332 498.5h1M340 498.5h4M350 498.5h2M396 498.5h1M578 498.5h2M583 498.5h4M589 498.5h1M600 498.5h1M616 498.5h1M693 498.5h1M749 498.5h2M759 498.5h1M793 498.5h1M805 498.5h2M851 498.5h1M855 498.5h2M909 498.5h1M921 498.5h2M25 499.5h2M52 499.5h1M58 499.5h1M239 499.5h1M256 499.5h1M284 499.5h1M301 499.5h1M333 499.5h3M338 499.5h2M344 499.5h6M396 499.5h1M415 499.5h3M577 499.5h1M587 499.5h2M601 499.5h1M616 499.5h1M694 499.5h1M748 499.5h1M751 499.5h1M758 499.5h1M794 499.5h2M804 499.5h1M852 499.5h1M854 499.5h1M909 499.5h1M919 499.5h2M923 499.5h2M17 500.5h2M23 500.5h2M53 500.5h2M57 500.5h1M240 500.5h1M255 500.5h1M285 500.5h2M300 500.5h1M336 500.5h2M397 500.5h1M413 500.5h2M418 500.5h2M535 500.5h3M576 500.5h1M602 500.5h1M615 500.5h1M694 500.5h1M747 500.5h1M752 500.5h1M758 500.5h1M796 500.5h1M803 500.5h1M853 500.5h1M910 500.5h2M918 500.5h1M16 501.5h1M19 501.5h2M22 501.5h1M55 501.5h2M240 501.5h1M254 501.5h1M287 501.5h2M299 501.5h1M398 501.5h1M412 501.5h1M420 501.5h1M481 501.5h1M525 501.5h10M538 501.5h1M567 501.5h4M575 501.5h1M602 501.5h1M614 501.5h1M695 501.5h1M747 501.5h1M753 501.5h5M797 501.5h3M802 501.5h1M912 501.5h1M915 501.5h3M16 502.5h1M21 502.5h1M241 502.5h3M252 502.5h2M289 502.5h3M298 502.5h1M399 502.5h1M411 502.5h1M421 502.5h1M461 502.5h8M480 502.5h1M482 502.5h1M524 502.5h1M539 502.5h2M558 502.5h9M571 502.5h2M574 502.5h1M603 502.5h1M613 502.5h1M695 502.5h1M746 502.5h1M800 502.5h2M913 502.5h2M15 503.5h1M244 503.5h4M250 503.5h2M292 503.5h6M400 503.5h1M403 503.5h5M410 503.5h1M422 503.5h2M433 503.5h3M460 503.5h1M469 503.5h2M479 503.5h1M482 503.5h1M524 503.5h1M541 503.5h1M557 503.5h1M573 503.5h1M604 503.5h1M612 503.5h1M696 503.5h1M745 503.5h1M15 504.5h1M248 504.5h2M401 504.5h2M408 504.5h2M424 504.5h1M432 504.5h1M436 504.5h8M460 504.5h1M471 504.5h2M478 504.5h1M483 504.5h1M523 504.5h1M542 504.5h1M556 504.5h1M604 504.5h1M611 504.5h1M697 504.5h1M745 504.5h1M5 505.5h4M14 505.5h1M425 505.5h2M431 505.5h1M444 505.5h2M459 505.5h1M473 505.5h5M483 505.5h1M507 505.5h7M523 505.5h1M543 505.5h1M555 505.5h1M605 505.5h1M610 505.5h1M697 505.5h2M744 505.5h1M9 506.5h3M14 506.5h1M427 506.5h4M446 506.5h2M459 506.5h1M484 506.5h1M505 506.5h2M514 506.5h1M522 506.5h1M544 506.5h1M554 506.5h1M605 506.5h5M699 506.5h2M743 506.5h1M12 507.5h2M448 507.5h1M453 507.5h2M458 507.5h1M484 507.5h1M504 507.5h1M515 507.5h1M522 507.5h1M545 507.5h2M552 507.5h2M701 507.5h3M743 507.5h1M449 508.5h4M455 508.5h2M458 508.5h1M485 508.5h5M503 508.5h1M516 508.5h6M547 508.5h5M704 508.5h2M742 508.5h1M457 509.5h1M485 509.5h1M490 509.5h1M503 509.5h1M706 509.5h1M740 509.5h2M491 510.5h1M502 510.5h1M707 510.5h1M738 510.5h2M492 511.5h1M500 511.5h2M708 511.5h1M737 511.5h1M493 512.5h2M498 512.5h2M709 512.5h2M715 512.5h2M736 512.5h1M495 513.5h3M711 513.5h4M717 513.5h1M736 513.5h1M718 514.5h1M735 514.5h1M719 515.5h1M735 515.5h1M720 516.5h2M734 516.5h1M722 517.5h1M734 517.5h1M723 518.5h2M733 518.5h1M725 519.5h2M732 519.5h2M727 520.5h2M730 520.5h2M729 521.5h1" fill="none" stroke="#1e90ff" stroke-width="1"/><rect x="4" y="24" width="1164" height="1" fill="#000"/><rect x="4" y="24" width="1" height="507" fill="#000"/><rect x="1167" y="24" width="1" height="507" fill="#000"/><rect x="4" y="390" width="1164" height="1" fill="#000"/><rect x="4" y="392" width="1164" height="1" fill="#000"/><rect x="4" y="459" width="1164" height="1" fill="#000"/><rect x="4" y="461" width="1164" height="1" fill="#000"/><rect x="4" y="530" width="1164" height="1" fill="#000"/><rect x="5" y="391" width="1162" height="1" fill="#fff"/><rect x="5" y="460" width="1162" height="1" fill="#fff"/><rect x="4" y="129" width="6" height="6" fill="#ff0000"/><rect x="6" y="131" width="2" height="2" fill="#fff"/><rect x="1161" y="129" width="6" height="6" fill="#ff0000"/><rect x="1163" y="131" width="2" height="2" fill="#fff"/><rect x="4" y="225" width="6" height="6" fill="#0000ff"/><rect x="6" y="227" width="2" height="2" fill="#fff"/><rect x="1161" y="225" width="6" height="6" fill="#0000ff"/><rect x="1163" y="227" width="2" height="2" fill="#fff"/><rect x="1168" y="57" width="2" height="1" fill="#000"/><rect x="1168" y="90" width="2" height="1" fill="#000"/><rect x="1168" y="123" width="2" height="1" fill="#000"/><rect x="1168" y="156" width="2" height="1" fill="#000"/><rect x="1168" y="189" width="2" height="1" fill="#000"/><rect x="1168" y="222" width="2" height="1" fill="#000"/><rect x="1168" y="255" width="2" height="1" fill="#000"/><rect x="1168" y="288" width="2" height="1" fill="#000"/><rect x="1168" y="321" width="2" height="1" fill="#000"/><rect x="1168" y="354" width="2" height="1" fill="#000"/><rect x="1168" y="387" width="2" height="1" fill="#000"/><rect x="1168" y="415" width="2" height="1" fill="#000"/><rect x="1168" y="463" width="2" height="1" fill="#000"/><rect x="1168" y="529" width="2" height="1" fill="#000"/><rect x="5" y="531" width="1" height="3" fill="#000"/><rect x="69" y="531" width="1" height="3" fill="#000"/><rect x="133" y="531" width="1" height="3" fill="#000"/><rect x="197" y="531" width="1" height="3" fill="#000"/><rect x="261" y="531" width="1" height="3" fill="#000"/><rect x="325" y="531" width="1" height="3" fill="#000"/><rect x="389" y="531" width="1" height="3" fill="#000"/><rect x="453" y="531" width="1" height="3" fill="#000"/><rect x="517" y="531" width="1" height="3" fill="#000"/><rect x="581" y="531" width="1" height="3" fill="#000"/><rect x="645" y="531" width="1" height="3" fill="#000"/><rect x="709" y="531" width="1" height="3" fill="#000"/><rect x="773" y="531" width="1" height="3" fill="#000"/><rect x="837" y="531" width="1" height="3" fill="#000"/><rect x="901" y="531" width="1" height="3" fill="#000"/></svg>
<div class="t" style="left:1172.7px;top:53px;font-size:9.4px;line-height:9.4px;color:#000;transform:scaleX(0.9914);transform-origin:0 0;">0.99900</div>
<div class="t" style="left:1172.7px;top:86px;font-size:9.4px;line-height:9.4px;color:#000;transform:scaleX(0.9914);transform-origin:0 0;">0.99080</div>
<div class="t" style="left:1172.7px;top:119px;font-size:9.4px;line-height:9.4px;color:#000;transform:scaleX(0.9914);transform-origin:0 0;">0.98260</div>
<div class="t" style="left:1172.7px;top:152px;font-size:9.4px;line-height:9.4px;color:#000;transform:scaleX(0.9914);transform-origin:0 0;">0.97420</div>
<div class="t" style="left:1172.7px;top:185px;font-size:9.4px;line-height:9.4px;color:#000;transform:scaleX(0.9914);transform-origin:0 0;">0.96600</div>
<div class="t" style="left:1172.7px;top:218px;font-size:9.4px;line-height:9.4px;color:#000;transform:scaleX(0.9914);transform-origin:0 0;">0.95780</div>
<div class="t" style="left:1172.7px;top:251px;font-size:9.4px;line-height:9.4px;color:#000;transform:scaleX(0.9914);transform-origin:0 0;">0.94960</div>
<div class="t" style="left:1172.7px;top:284px;font-size:9.4px;line-height:9.4px;color:#000;transform:scaleX(0.9914);transform-origin:0 0;">0.94140</div>
<div class="t" style="left:1172.7px;top:317px;font-size:9.4px;line-height:9.4px;color:#000;transform:scaleX(0.9914);transform-origin:0 0;">0.93300</div>
<div class="t" style="left:1172.7px;top:350px;font-size:9.4px;line-height:9.4px;color:#000;transform:scaleX(0.9914);transform-origin:0 0;">0.92480</div>
<div class="t" style="left:1172.7px;top:383px;font-size:9.4px;line-height:9.4px;color:#000;transform:scaleX(0.9914);transform-origin:0 0;">0.91660</div>
<div class="t" style="left:1170.7px;top:395px;font-size:9.4px;line-height:9.4px;color:#000;transform:scaleX(0.9716);transform-origin:0 0;">0.005744</div>
<div class="t" style="left:1170.7px;top:411px;font-size:9.4px;line-height:9.4px;color:#000;transform:scaleX(1.0137);transform-origin:0 0;">0.00</div>
<div class="t" style="left:1170.7px;top:448px;font-size:9.4px;line-height:9.4px;color:#000;transform:scaleX(0.9716);transform-origin:0 0;">-0.011738</div>
<div class="t" style="left:1170.7px;top:464px;font-size:9.4px;line-height:9.4px;color:#000;transform:scaleX(0.9900);transform-origin:0 0;">100</div>
<div class="t" style="left:1169.6px;top:479px;font-size:9.4px;line-height:9.4px;color:#000;transform:scaleX(0.9900);transform-origin:0 0;">70</div>
<div class="t" style="left:1169.6px;top:505px;font-size:9.4px;line-height:9.4px;color:#000;transform:scaleX(0.9900);transform-origin:0 0;">30</div>
<div class="t" style="left:1170.4px;top:519px;font-size:9.4px;line-height:9.4px;color:#000;transform:scaleX(0.9900);transform-origin:0 0;">0</div>
<div class="b" style="left:1169px;top:86px;width:41px;height:11px;background:#ff0000;"></div>
<div class="t" style="left:1172.7px;top:87px;font-size:9.4px;line-height:9.4px;color:#fff;transform:scaleX(0.9914);transform-origin:0 0;">0.99021</div>
<div class="b" style="left:1169px;top:126px;width:41px;height:11px;background:#ff0000;"></div>
<div class="t" style="left:1172.7px;top:127px;font-size:9.4px;line-height:9.4px;color:#fff;transform:scaleX(0.9914);transform-origin:0 0;">0.98030</div>
<div class="b" style="left:1169px;top:175px;width:41px;height:11px;background:#00ff00;"></div>
<div class="t" style="left:1172.7px;top:176px;font-size:9.4px;line-height:9.4px;color:#fff;transform:scaleX(0.9914);transform-origin:0 0;">0.96805</div>
<div class="b" style="left:1169px;top:189px;width:41px;height:11px;background:#000;"></div>
<div class="t" style="left:1172.7px;top:190px;font-size:9.4px;line-height:9.4px;color:#fff;transform:scaleX(0.9914);transform-origin:0 0;">0.96474</div>
<div class="b" style="left:1169px;top:222px;width:41px;height:11px;background:#0000ff;"></div>
<div class="t" style="left:1172.7px;top:223px;font-size:9.4px;line-height:9.4px;color:#fff;transform:scaleX(0.9914);transform-origin:0 0;">0.95643</div>
<div class="b" style="left:1169px;top:271px;width:41px;height:11px;background:#0000ff;"></div>
<div class="t" style="left:1172.7px;top:272px;font-size:9.4px;line-height:9.4px;color:#fff;transform:scaleX(0.9914);transform-origin:0 0;">0.94418</div>
<div class="b" style="left:1169px;top:327px;width:41px;height:11px;background:#0000ff;"></div>
<div class="t" style="left:1172.7px;top:328px;font-size:9.4px;line-height:9.4px;color:#fff;transform:scaleX(0.9914);transform-origin:0 0;">0.93003</div>
<div class="t" style="left:20.2px;top:28px;font-size:9.4px;line-height:9.4px;color:#000;transform:scaleX(1.0240);transform-origin:0 0;">USDCHF-,Daily</div>
<div class="t" style="left:94.0px;top:28px;font-size:9.4px;line-height:9.4px;color:#000;transform:scaleX(0.9855);transform-origin:0 0;">0.96557 0.96557 0.96449 0.96474</div>
<svg class="b" style="left:8px;top:30.6px" width="8" height="5"><path d="M0 4.2 L3.5 0.3 L7 4.2 Z" fill="#000"/></svg>
<div class="t" style="left:9.5px;top:397px;font-size:9.4px;line-height:9.4px;color:#000;transform:scaleX(0.9949);transform-origin:0 0;">MACD(12,26,9) -0.000545 0.001069</div>
<div class="t" style="left:9.0px;top:466px;font-size:9.4px;line-height:9.4px;color:#000;transform:scaleX(0.9884);transform-origin:0 0;">RSI(14) 45.5336</div>
<div class="t" style="left:3.7px;top:535px;font-size:9.4px;line-height:9.4px;color:#000;transform:scaleX(1.0031);transform-origin:0 0;">9 Aug 2019</div>
<div class="t" style="left:67.7px;top:535px;font-size:9.4px;line-height:9.4px;color:#000;transform:scaleX(1.0031);transform-origin:0 0;">28 Aug 2019</div>
<div class="t" style="left:131.7px;top:535px;font-size:9.4px;line-height:9.4px;color:#000;transform:scaleX(1.0031);transform-origin:0 0;">16 Sep 2019</div>
<div class="t" style="left:195.7px;top:535px;font-size:9.4px;line-height:9.4px;color:#000;transform:scaleX(1.0031);transform-origin:0 0;">4 Oct 2019</div>
<div class="t" style="left:259.7px;top:535px;font-size:9.4px;line-height:9.4px;color:#000;transform:scaleX(1.0031);transform-origin:0 0;">23 Oct 2019</div>
<div class="t" style="left:323.7px;top:535px;font-size:9.4px;line-height:9.4px;color:#000;transform:scaleX(1.0031);transform-origin:0 0;">11 Nov 2019</div>
<div class="t" style="left:387.7px;top:535px;font-size:9.4px;line-height:9.4px;color:#000;transform:scaleX(1.0031);transform-origin:0 0;">29 Nov 2019</div>
<div class="t" style="left:451.7px;top:535px;font-size:9.4px;line-height:9.4px;color:#000;transform:scaleX(1.0031);transform-origin:0 0;">18 Dec 2019</div>
<div class="t" style="left:515.7px;top:535px;font-size:9.4px;line-height:9.4px;color:#000;transform:scaleX(1.0031);transform-origin:0 0;">6 Jan 2020</div>
<div class="t" style="left:579.7px;top:535px;font-size:9.4px;line-height:9.4px;color:#000;transform:scaleX(1.0031);transform-origin:0 0;">24 Jan 2020</div>
<div class="t" style="left:643.7px;top:535px;font-size:9.4px;line-height:9.4px;color:#000;transform:scaleX(1.0031);transform-origin:0 0;">12 Feb 2020</div>
<div class="t" style="left:707.7px;top:535px;font-size:9.4px;line-height:9.4px;color:#000;transform:scaleX(1.0031);transform-origin:0 0;">2 Mar 2020</div>
<div class="t" style="left:771.7px;top:535px;font-size:9.4px;line-height:9.4px;color:#000;transform:scaleX(1.0031);transform-origin:0 0;">20 Mar 2020</div>
<div class="t" style="left:835.7px;top:535px;font-size:9.4px;line-height:9.4px;color:#000;transform:scaleX(1.0031);transform-origin:0 0;">8 Apr 2020</div>
<div class="t" style="left:899.7px;top:535px;font-size:9.4px;line-height:9.4px;color:#000;transform:scaleX(1.0031);transform-origin:0 0;">28 Apr 2020</div>
<div class="b" style="left:6px;top:42px;width:223px;height:68px;background:#fff;"></div>
<div class="b" style="left:8px;top:44px;width:219px;height:64px;background:linear-gradient(#5a5afa 0%,#3e3eec 35%,#1e1ed2 65%,#0404a8 100%)"></div>
<div class="b" style="left:8px;top:44px;width:52px;height:1px;background:#0000a2;"></div>
<div class="b" style="left:8px;top:44px;width:1px;height:64px;background:#0000a2;"></div>
<div class="b" style="left:59px;top:44px;width:1px;height:25px;background:#0000a2;"></div>
<div class="b" style="left:59px;top:68px;width:58px;height:1px;background:#0000a2;"></div>
<div class="b" style="left:116px;top:68px;width:1px;height:40px;background:#0000a2;"></div>
<div class="b" style="left:8px;top:107px;width:109px;height:1px;background:#0000a2;"></div>
<div class="b" style="left:175px;top:44px;width:52px;height:1px;background:#0000a2;"></div>
<div class="b" style="left:226px;top:44px;width:1px;height:64px;background:#0000a2;"></div>
<div class="b" style="left:175px;top:44px;width:1px;height:25px;background:#0000a2;"></div>
<div class="b" style="left:119px;top:68px;width:57px;height:1px;background:#0000a2;"></div>
<div class="b" style="left:119px;top:68px;width:1px;height:40px;background:#0000a2;"></div>
<div class="b" style="left:119px;top:107px;width:108px;height:1px;background:#0000a2;"></div>
<div class="b" style="left:60px;top:44px;width:115px;height:24px;background:#fff;"></div>
<div class="b" style="left:117px;top:68px;width:2px;height:40px;background:#fff;"></div>
<div class="b" style="left:62px;top:44px;width:111px;height:22px;background:#fff;border:1px solid #a4a4ac;box-sizing:border-box;"></div>
<div class="b" style="left:83px;top:44px;width:1px;height:22px;background:#a4a4ac;"></div>
<div class="b" style="left:151px;top:44px;width:1px;height:22px;background:#a4a4ac;"></div>
<div class="b" style="left:64px;top:46px;width:18px;height:18px;background:linear-gradient(#f4f4f4 0%,#e9e9e9 33%,#d8d8d8 34%,#d0d0d0 100%)"></div>
<div class="b" style="left:153px;top:46px;width:18px;height:18px;background:linear-gradient(#f4f4f4 0%,#e9e9e9 33%,#d8d8d8 34%,#d0d0d0 100%)"></div>
<svg class="b" style="left:70px;top:53px" width="6" height="4"><path d="M0 0 L5.4 0 L2.7 3.3 Z" fill="#3f5fd0"/></svg>
<svg class="b" style="left:159px;top:52.8px" width="6" height="4"><path d="M0 3.3 L5.4 3.3 L2.7 0 Z" fill="#3f5fd0"/></svg>
<div class="t" style="left:117.9px;top:49px;font-size:12.4px;line-height:12.4px;color:#000;transform:scaleX(0.9834);transform-origin:0 0;">20.00</div>
<div class="b" style="left:12px;top:67px;width:44px;height:1px;background:#1818b4;"></div>
<div class="b" style="left:179px;top:67px;width:44px;height:1px;background:#1818b4;"></div>
<div class="b" style="left:12px;top:68px;width:44px;height:1px;background:#9c9cf4;"></div>
<div class="b" style="left:179px;top:68px;width:44px;height:1px;background:#9c9cf4;"></div>
<div class="t" style="left:20.3px;top:51px;font-size:11.4px;line-height:11.4px;color:#fff;transform:scaleX(0.9256);transform-origin:0 0;">SELL</div>
<div class="t" style="left:188.3px;top:51px;font-size:11.4px;line-height:11.4px;color:#fff;transform:scaleX(0.9948);transform-origin:0 0;">BUY</div>
<div class="t" style="left:27.8px;top:89px;font-size:12.4px;line-height:12.4px;color:#fff;transform:scaleX(1.0238);transform-origin:0 0;font-weight:bold;">0.96</div>
<div class="t" style="left:137.8px;top:89px;font-size:12.4px;line-height:12.4px;color:#fff;transform:scaleX(1.0238);transform-origin:0 0;font-weight:bold;">0.96</div>
<div class="t" style="left:54.4px;top:70px;font-size:35px;line-height:35px;color:#fff;transform:scaleX(0.9451);transform-origin:0 0;">47</div>
<div class="t" style="left:165.1px;top:70px;font-size:35px;line-height:35px;color:#fff;transform:scaleX(0.9451);transform-origin:0 0;">49</div>
<div class="t" style="left:94.9px;top:73px;font-size:12.4px;line-height:12.4px;color:#fff;font-weight:bold;">4</div>
<div class="t" style="left:206.0px;top:73px;font-size:12.4px;line-height:12.4px;color:#fff;font-weight:bold;">5</div>
<div class="b" style="left:0px;top:551px;width:1211px;height:1px;background:#e8e8e8;"></div>
<div class="b" style="left:0px;top:552px;width:1211px;height:1px;background:#fff;"></div>
<div class="b" style="left:0px;top:553px;width:1211px;height:1px;background:#000;"></div>
<div class="b" style="left:0px;top:554px;width:1211px;height:18px;background:#f0f0f0;"></div>
<div class="b" style="left:0px;top:572px;width:1211px;height:2px;background:#fafafa;"></div>
<div class="b" style="left:0px;top:554px;width:1px;height:18px;background:#a4a4a4;"></div>
<div class="b" style="left:1px;top:554px;width:1px;height:18px;background:#6a6a6a;"></div>
<div class="b" style="left:2px;top:554px;width:1209px;height:1px;background:#f9f9f9;"></div>
<div class="b" style="left:569px;top:554px;width:1px;height:18px;background:#fff;"></div>
<div class="b" style="left:570px;top:553px;width:108px;height:19px;background:#fff;border:1px solid #000;border-top:none;box-sizing:border-box;"></div>
<div class="t" style="left:18.6px;top:558px;font-size:12.2px;line-height:12.2px;color:#7a7a7a;transform:scaleX(1.0187);transform-origin:0 0;">USOil-,Daily</div>
<div class="t" style="left:110.2px;top:558px;font-size:12.2px;line-height:12.2px;color:#7a7a7a;transform:scaleX(0.9900);transform-origin:0 0;">GBPUSD-,M5</div>
<div class="t" style="left:210.6px;top:558px;font-size:12.2px;line-height:12.2px;color:#7a7a7a;transform:scaleX(0.9660);transform-origin:0 0;">USDCHF-,H4</div>
<div class="t" style="left:305.4px;top:558px;font-size:12.2px;line-height:12.2px;color:#7a7a7a;transform:scaleX(0.9872);transform-origin:0 0;">EURUSD-,Daily</div>
<div class="t" style="left:413.9px;top:558px;font-size:12.2px;line-height:12.2px;color:#7a7a7a;transform:scaleX(0.9729);transform-origin:0 0;">USDJPY-,H4</div>
<div class="t" style="left:506.3px;top:558px;font-size:12.2px;line-height:12.2px;color:#7a7a7a;transform:scaleX(1.0100);transform-origin:0 0;">DJ30-,H4</div>
<div class="t" style="left:688.3px;top:558px;font-size:12.2px;line-height:12.2px;color:#7a7a7a;transform:scaleX(1.0184);transform-origin:0 0;">HK50-,H1</div>
<div class="t" style="left:766.1px;top:558px;font-size:12.2px;line-height:12.2px;color:#7a7a7a;transform:scaleX(1.0062);transform-origin:0 0;">USOil-,H1</div>
<div class="t" style="left:845.1px;top:558px;font-size:12.2px;line-height:12.2px;color:#7a7a7a;transform:scaleX(1.0023);transform-origin:0 0;">USDCAD-,Daily</div>
<div class="t" style="left:954.3px;top:558px;font-size:12.2px;line-height:12.2px;color:#7a7a7a;transform:scaleX(1.0165);transform-origin:0 0;">USDCNH-,Daily</div>
<div class="t" style="left:1064.4px;top:558px;font-size:12.2px;line-height:12.2px;color:#7a7a7a;transform:scaleX(1.0070);transform-origin:0 0;">AUDUSD-,Daily</div>
<div class="t" style="left:582.3px;top:558px;font-size:12.2px;line-height:12.2px;color:#000;transform:scaleX(0.9811);transform-origin:0 0;">USDCHF-,Daily</div>
<div class="b" style="left:98px;top:556px;width:1px;height:14px;background:#707070;"></div>
<div class="b" style="left:198px;top:556px;width:1px;height:14px;background:#707070;"></div>
<div class="b" style="left:294px;top:556px;width:1px;height:14px;background:#707070;"></div>
<div class="b" style="left:402px;top:556px;width:1px;height:14px;background:#707070;"></div>
<div class="b" style="left:494px;top:556px;width:1px;height:14px;background:#707070;"></div>
<div class="b" style="left:754px;top:556px;width:1px;height:14px;background:#707070;"></div>
<div class="b" style="left:834px;top:556px;width:1px;height:14px;background:#707070;"></div>
<div class="b" style="left:942px;top:556px;width:1px;height:14px;background:#707070;"></div>
<div class="b" style="left:1054px;top:556px;width:1px;height:14px;background:#707070;"></div>
<div class="b" style="left:1162px;top:556px;width:1px;height:14px;background:#707070;"></div>
<svg class="b" style="left:1182px;top:559px" width="5" height="8"><path d="M4.2 0 L4.2 7 L0.6 3.5 Z" fill="#000"/></svg>
<svg class="b" style="left:1201px;top:559px" width="5" height="8"><path d="M0.8 0 L0.8 7 L4.4 3.5 Z" fill="#a0a0a0"/></svg>
</div></body></html>
